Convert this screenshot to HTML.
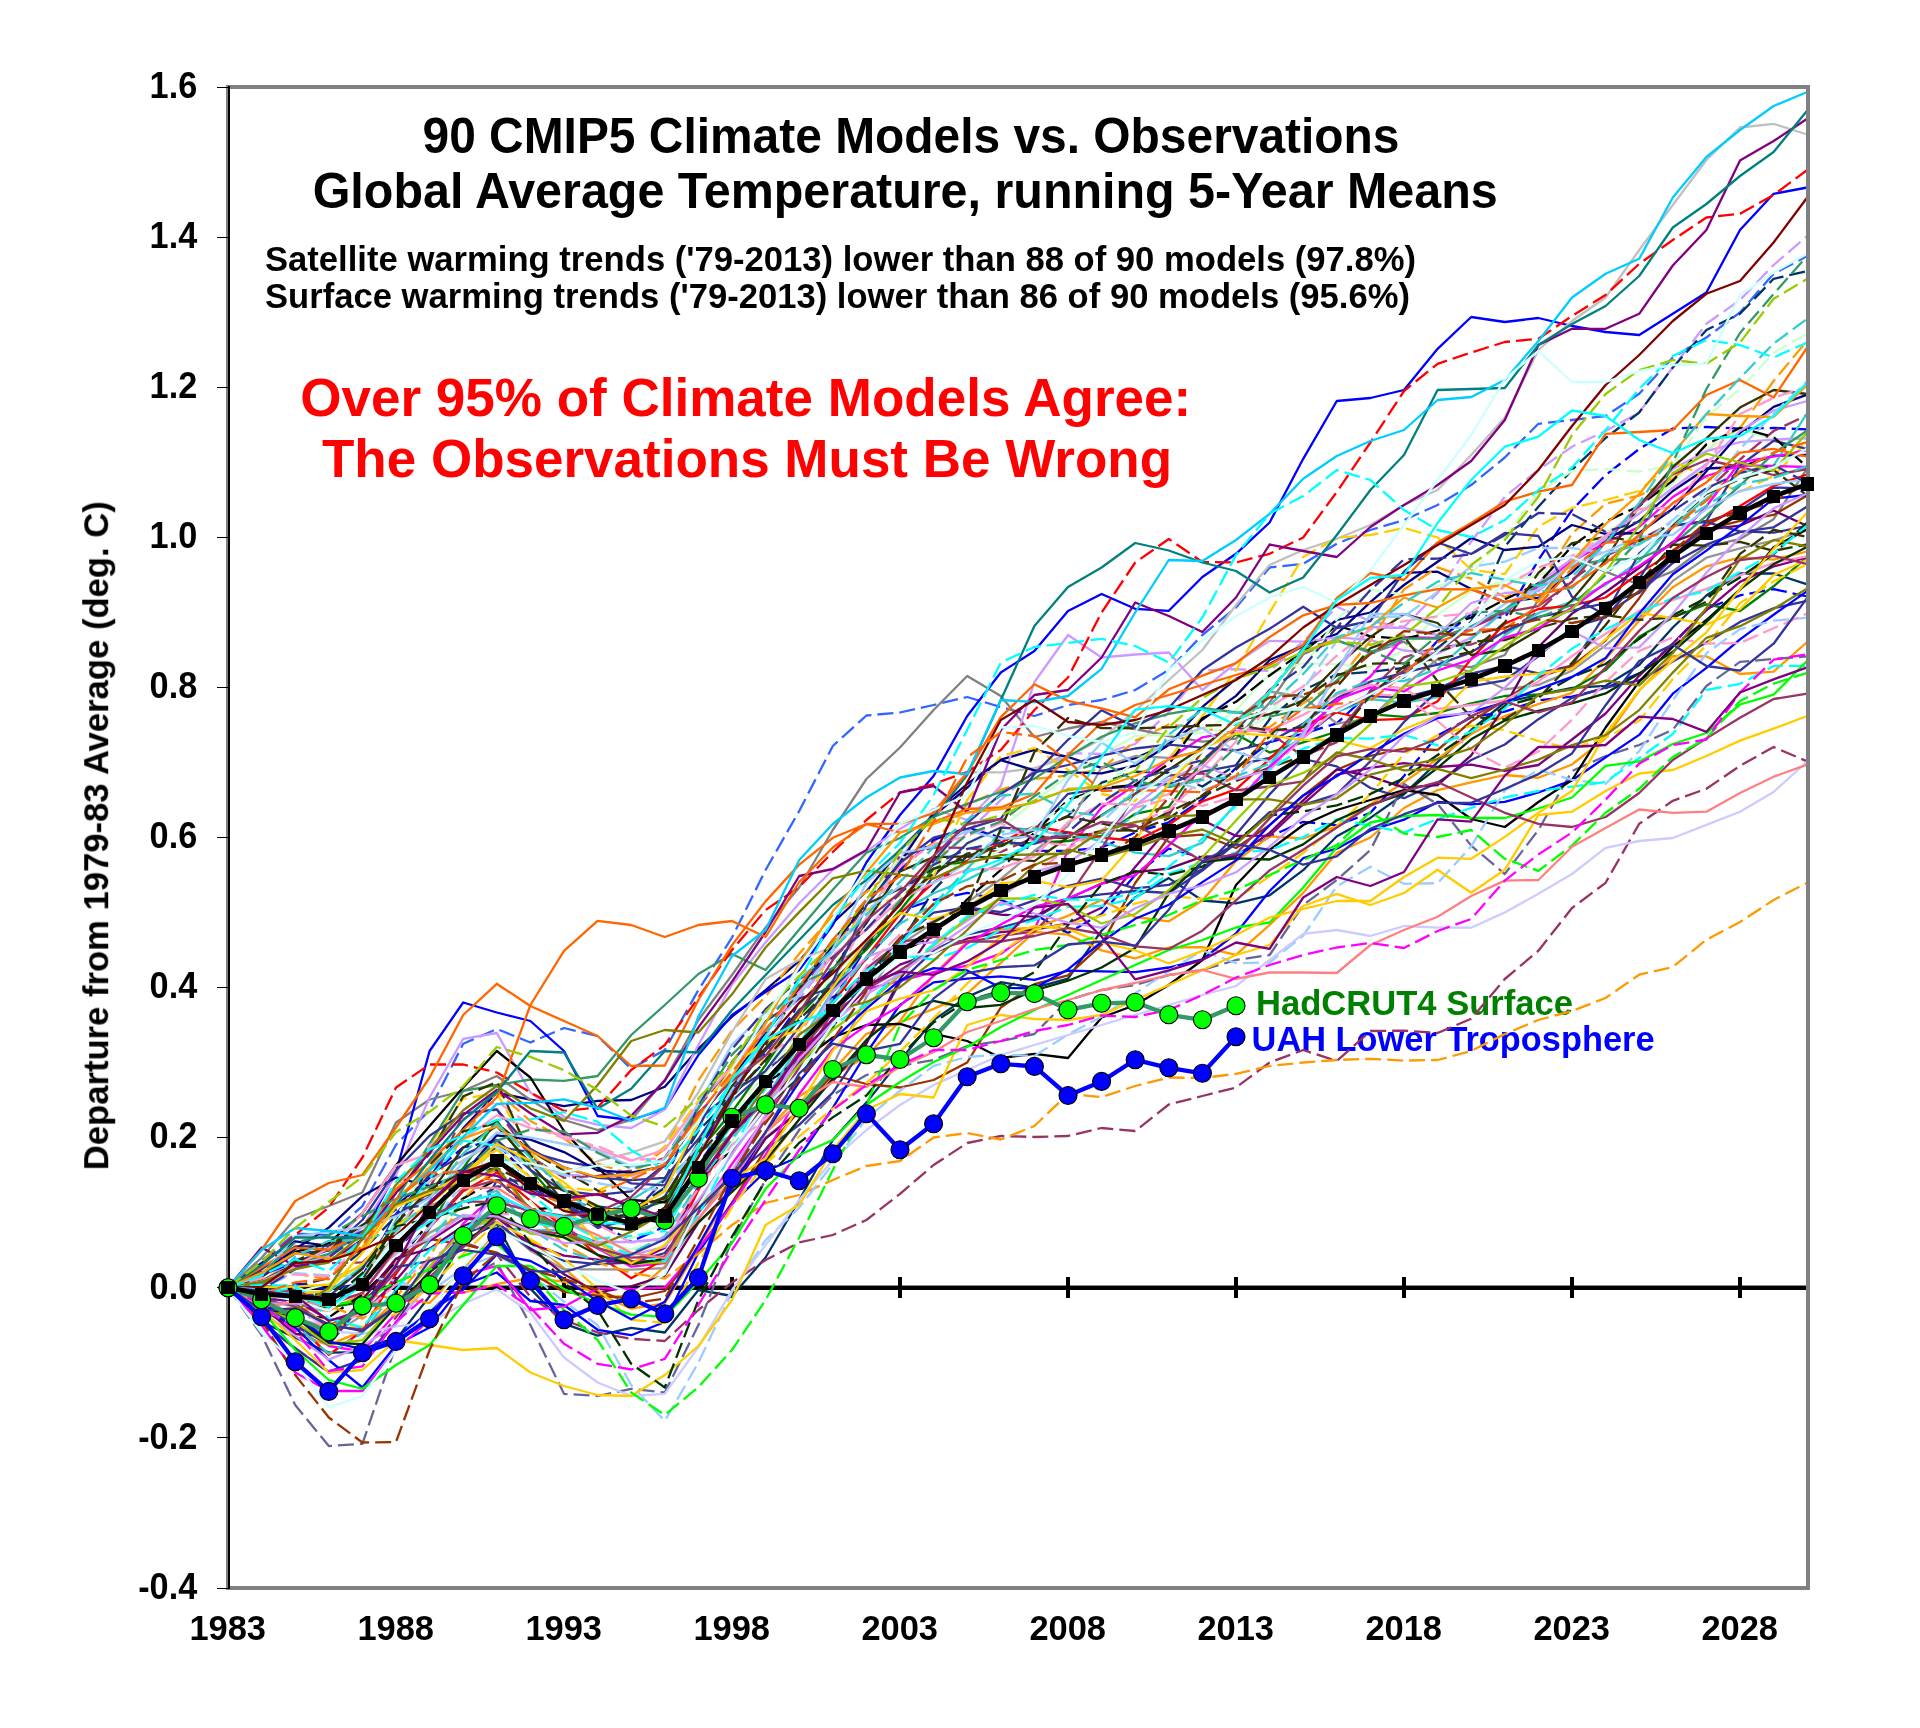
<!DOCTYPE html>
<html><head><meta charset="utf-8"><title>90 CMIP5 Climate Models vs. Observations</title>
<style>
html,body{margin:0;padding:0;background:#fff;}
body{width:1920px;height:1728px;overflow:hidden;font-family:"Liberation Sans",sans-serif;}
svg{display:block;}
text{font-family:"Liberation Sans",sans-serif;font-weight:bold;}
.tx{opacity:0.999;}
.m polyline{fill:none;stroke-width:2.3;stroke-linejoin:round;}
.d{stroke-dasharray:16 6;}
</style></head><body>
<svg width="1920" height="1728" viewBox="0 0 1920 1728">
<rect x="0" y="0" width="1920" height="1728" fill="#ffffff"/>

<g shape-rendering="crispEdges"><rect x="229" y="1286" width="1578" height="4" fill="#000"/><rect x="229" y="1285" width="1578" height="1" fill="#000" fill-opacity="0.45"/>
<rect x="394.0" y="1277" width="4" height="21" fill="#000"/>
<rect x="562.0" y="1277" width="4" height="21" fill="#000"/>
<rect x="730.0" y="1277" width="4" height="21" fill="#000"/>
<rect x="898.0" y="1277" width="4" height="21" fill="#000"/>
<rect x="1066.0" y="1277" width="4" height="21" fill="#000"/>
<rect x="1234.0" y="1277" width="4" height="21" fill="#000"/>
<rect x="1402.0" y="1277" width="4" height="21" fill="#000"/>
<rect x="1570.0" y="1277" width="4" height="21" fill="#000"/>
<rect x="1738.0" y="1277" width="4" height="21" fill="#000"/>
</g>
<defs><filter id="idf" x="0" y="0" width="1" height="1" color-interpolation-filters="sRGB"><feOffset dx="0" dy="0"/></filter></defs>
<g filter="url(#idf)">
<text x="1256" y="1014.5" font-size="35.3" fill="#008000" textLength="317" lengthAdjust="spacingAndGlyphs">HadCRUT4 Surface</text>
<text x="1251.6" y="1050.6" font-size="35.3" fill="#0000ff" textLength="403" lengthAdjust="spacingAndGlyphs">UAH Lower Troposphere</text>
</g>
<g class="m">
<polyline class="d" stroke="#cc99ff" points="228.0,1287.5 261.6,1281.3 295.2,1259.0 328.8,1257.3 362.4,1234.1 396.0,1206.2 429.6,1194.8 463.2,1182.3 496.8,1159.9 530.4,1163.0 564.0,1174.5 597.6,1177.1 631.2,1175.9 664.8,1164.4 698.4,1118.1 732.0,1073.6 765.6,1028.2 799.2,999.1 832.8,954.9 866.4,930.0 900.0,891.1 933.6,864.0 967.2,832.5 1000.8,800.0 1034.4,770.0 1068.0,753.0 1101.6,754.0 1135.2,744.0 1168.8,712.2 1202.4,670.7 1236.0,669.2 1269.6,671.0 1303.2,641.6 1336.8,606.8 1370.4,621.2 1404.0,627.0 1437.6,593.0 1471.2,541.7 1504.8,496.7 1538.4,470.0 1572.0,446.7 1605.6,431.0 1639.2,412.5 1672.8,367.5 1706.4,323.8 1740.0,300.0 1773.6,265.0 1807.2,236.0"/>
<polyline class="d" stroke="#3366ff" points="228.0,1287.5 261.6,1260.8 295.2,1233.7 328.8,1234.9 362.4,1206.1 396.0,1144.8 429.6,1110.0 463.2,1043.8 496.8,1029.0 530.4,1042.5 564.0,1028.0 597.6,1036.0 631.2,1068.8 664.8,1050.0 698.4,990.0 732.0,937.5 765.6,870.0 799.2,811.0 832.8,746.0 866.4,715.5 900.0,712.5 933.6,705.0 967.2,697.0 1000.8,707.0 1034.4,716.0 1068.0,705.0 1101.6,700.0 1135.2,690.0 1168.8,670.0 1202.4,635.0 1236.0,607.5 1269.6,567.5 1303.2,563.8 1336.8,543.8 1370.4,530.0 1404.0,520.0 1437.6,505.0 1471.2,485.0 1504.8,457.5 1538.4,423.8 1572.0,420.0 1605.6,416.0 1639.2,393.8 1672.8,357.5 1706.4,337.5 1740.0,312.5 1773.6,273.8 1807.2,256.0"/>
<polyline class="d" stroke="#003366" points="228.0,1287.5 261.6,1296.0 295.2,1286.2 328.8,1278.0 362.4,1250.6 396.0,1216.3 429.6,1176.9 463.2,1170.0 496.8,1170.3 530.4,1191.8 564.0,1201.7 597.6,1206.5 631.2,1210.7 664.8,1187.7 698.4,1130.9 732.0,1096.5 765.6,1060.8 799.2,1016.8 832.8,997.3 866.4,977.8 900.0,944.3 933.6,890.1 967.2,855.9 1000.8,846.4 1034.4,829.9 1068.0,815.8 1101.6,782.7 1135.2,771.7 1168.8,772.9 1202.4,786.5 1236.0,765.1 1269.6,719.2 1303.2,690.2 1336.8,674.3 1370.4,672.0 1404.0,667.9 1437.6,648.0 1471.2,621.7 1504.8,546.7 1538.4,506.7 1572.0,470.0 1605.6,438.0 1639.2,412.5 1672.8,367.5 1706.4,330.0 1740.0,313.8 1773.6,278.8 1807.2,271.0"/>
<polyline stroke="#003366" points="228.0,1287.5 261.6,1321.8 295.2,1337.6 328.8,1352.6 362.4,1352.2 396.0,1339.6 429.6,1296.2 463.2,1240.5 496.8,1223.8 530.4,1288.6 564.0,1323.7 597.6,1335.7 631.2,1327.9 664.8,1332.5 698.4,1290.0 732.0,1296.0 765.6,1257.5 799.2,1200.0 832.8,1140.0 866.4,1102.6 900.0,1060.4 933.6,1020.1 967.2,996.9 1000.8,982.2 1034.4,987.9 1068.0,978.7 1101.6,930.7 1135.2,897.4 1168.8,878.1 1202.4,900.5 1236.0,903.4 1269.6,895.3 1303.2,870.2 1336.8,836.2 1370.4,817.9 1404.0,794.2 1437.6,762.1 1471.2,730.0 1504.8,702.4 1538.4,694.9 1572.0,687.9 1605.6,685.8 1639.2,665.1 1672.8,627.5 1706.4,595.5 1740.0,573.5 1773.6,573.4 1807.2,584.4"/>
<polyline stroke="#000080" points="228.0,1287.5 261.6,1262.9 295.2,1241.3 328.8,1245.8 362.4,1237.4 396.0,1205.8 429.6,1177.9 463.2,1128.3 496.8,1092.7 530.4,1099.6 564.0,1106.2 597.6,1100.8 631.2,1100.0 664.8,1086.8 698.4,1048.9 732.0,1016.6 765.6,990.2 799.2,960.9 832.8,923.0 866.4,891.4 900.0,850.1 933.6,816.0 967.2,787.6 1000.8,759.7 1034.4,749.9 1068.0,757.0 1101.6,767.9 1135.2,758.2 1168.8,743.5 1202.4,719.6 1236.0,695.9 1269.6,660.0 1303.2,645.7 1336.8,634.0 1370.4,602.1 1404.0,572.9 1437.6,571.7 1471.2,588.9 1504.8,602.1 1538.4,597.8 1572.0,572.3 1605.6,540.3 1639.2,521.0 1672.8,491.0 1706.4,468.5 1740.0,467.0 1773.6,455.7 1807.2,455.0"/>
<polyline class="d" stroke="#ff9900" points="228.0,1287.5 261.6,1282.7 295.2,1273.7 328.8,1279.3 362.4,1266.4 396.0,1232.4 429.6,1186.9 463.2,1136.9 496.8,1091.5 530.4,1121.0 564.0,1138.3 597.6,1163.7 631.2,1174.2 664.8,1149.0 698.4,1080.4 732.0,1030.6 765.6,996.5 799.2,953.8 832.8,915.8 866.4,892.0 900.0,866.2 933.6,842.5 967.2,804.7 1000.8,789.7 1034.4,779.0 1068.0,775.6 1101.6,768.9 1135.2,740.9 1168.8,724.5 1202.4,728.1 1236.0,733.5 1269.6,727.1 1303.2,703.3 1336.8,682.3 1370.4,640.9 1404.0,589.4 1437.6,567.4 1471.2,578.6 1504.8,597.0 1538.4,585.6 1572.0,533.7 1605.6,503.7 1639.2,495.6 1672.8,479.0 1706.4,450.0 1740.0,428.0 1773.6,381.0 1807.2,340.6"/>
<polyline class="d" stroke="#0000ff" points="228.0,1287.5 261.6,1292.4 295.2,1283.2 328.8,1289.7 362.4,1283.1 396.0,1250.0 429.6,1216.1 463.2,1170.7 496.8,1143.1 530.4,1178.1 564.0,1199.4 597.6,1221.9 631.2,1241.4 664.8,1226.5 698.4,1164.8 732.0,1115.6 765.6,1088.2 799.2,1055.7 832.8,1000.1 866.4,947.4 900.0,910.8 933.6,899.9 967.2,892.9 1000.8,899.9 1034.4,914.2 1068.0,932.9 1101.6,913.9 1135.2,875.0 1168.8,848.7 1202.4,857.7 1236.0,857.8 1269.6,836.5 1303.2,821.8 1336.8,825.4 1370.4,812.8 1404.0,776.0 1437.6,735.5 1471.2,717.4 1504.8,711.6 1538.4,700.3 1572.0,696.6 1605.6,688.1 1639.2,673.3 1672.8,644.0 1706.4,608.9 1740.0,595.4 1773.6,589.1 1807.2,596.5"/>
<polyline stroke="#808080" points="228.0,1287.5 261.6,1257.8 295.2,1218.8 328.8,1206.0 362.4,1192.5 396.0,1122.5 429.6,1099.5 463.2,1091.0 496.8,1076.0 530.4,1100.0 564.0,1120.0 597.6,1130.0 631.2,1120.0 664.8,1080.0 698.4,1020.0 732.0,975.0 765.6,927.5 799.2,887.5 832.8,830.0 866.4,779.0 900.0,747.5 933.6,710.0 967.2,676.0 1000.8,696.0 1034.4,737.0 1068.0,728.5 1101.6,722.0 1135.2,729.0 1168.8,736.0 1202.4,741.6 1236.0,738.6 1269.6,702.7 1303.2,654.3 1336.8,640.0 1370.4,653.3 1404.0,641.7 1437.6,664.4 1471.2,667.1 1504.8,655.0 1538.4,599.5 1572.0,557.8 1605.6,571.6 1639.2,584.7 1672.8,571.4 1706.4,546.5 1740.0,539.1 1773.6,519.2 1807.2,468.3"/>
<polyline class="d" stroke="#0000ff" points="228.0,1287.5 261.6,1298.4 295.2,1301.4 328.8,1310.6 362.4,1276.2 396.0,1214.0 429.6,1175.9 463.2,1147.4 496.8,1140.4 530.4,1185.1 564.0,1204.0 597.6,1214.7 631.2,1226.4 664.8,1211.6 698.4,1154.5 732.0,1089.0 765.6,1052.3 799.2,1004.8 832.8,967.9 866.4,923.1 900.0,870.0 933.6,840.0 967.2,827.5 1000.8,837.5 1034.4,850.6 1068.0,851.0 1101.6,847.5 1135.2,832.5 1168.8,822.3 1202.4,799.3 1236.0,768.2 1269.6,742.1 1303.2,733.7 1336.8,723.4 1370.4,692.1 1404.0,677.1 1437.6,640.8 1471.2,614.2 1504.8,618.0 1538.4,560.0 1572.0,510.0 1605.6,475.0 1639.2,449.0 1672.8,428.6 1706.4,427.0 1740.0,428.6 1773.6,428.0 1807.2,429.4"/>
<polyline stroke="#ff9900" points="228.0,1287.5 261.6,1315.8 295.2,1308.6 328.8,1310.6 362.4,1294.4 396.0,1298.6 429.6,1302.9 463.2,1269.1 496.8,1231.0 530.4,1240.0 564.0,1268.3 597.6,1297.1 631.2,1295.8 664.8,1266.5 698.4,1208.7 732.0,1186.1 765.6,1163.1 799.2,1119.4 832.8,1070.8 866.4,1033.8 900.0,1022.4 933.6,1008.9 967.2,993.7 1000.8,962.8 1034.4,931.9 1068.0,934.6 1101.6,950.4 1135.2,958.4 1168.8,947.5 1202.4,947.2 1236.0,954.9 1269.6,924.9 1303.2,892.8 1336.8,852.7 1370.4,837.5 1404.0,808.0 1437.6,790.1 1471.2,782.3 1504.8,775.0 1538.4,777.8 1572.0,764.5 1605.6,738.0 1639.2,690.5 1672.8,656.2 1706.4,656.3 1740.0,674.0 1773.6,671.7 1807.2,642.0"/>
<polyline stroke="#ccffcc" points="228.0,1287.5 261.6,1305.8 295.2,1292.8 328.8,1283.4 362.4,1267.4 396.0,1254.4 429.6,1237.1 463.2,1197.8 496.8,1148.4 530.4,1180.1 564.0,1210.1 597.6,1241.4 631.2,1249.3 664.8,1239.4 698.4,1186.7 732.0,1142.3 765.6,1074.9 799.2,1005.9 832.8,973.0 866.4,948.7 900.0,914.5 933.6,870.2 967.2,845.0 1000.8,828.8 1034.4,801.0 1068.0,776.0 1101.6,755.0 1135.2,736.0 1168.8,734.7 1202.4,732.8 1236.0,710.3 1269.6,673.5 1303.2,663.1 1336.8,664.4 1370.4,667.5 1404.0,649.7 1437.6,614.8 1471.2,591.4 1504.8,580.9 1538.4,575.5 1572.0,562.4 1605.6,532.8 1639.2,512.7 1672.8,483.2 1706.4,449.6 1740.0,429.6 1773.6,439.7 1807.2,436.1"/>
<polyline stroke="#969696" points="228.0,1287.5 261.6,1297.1 295.2,1316.7 328.8,1336.9 362.4,1315.4 396.0,1263.3 429.6,1232.8 463.2,1215.0 496.8,1222.9 530.4,1250.7 564.0,1269.4 597.6,1269.4 631.2,1269.6 664.8,1268.2 698.4,1219.4 732.0,1172.4 765.6,1137.5 799.2,1110.9 832.8,1065.4 866.4,996.9 900.0,944.9 933.6,922.8 967.2,902.4 1000.8,879.0 1034.4,851.0 1068.0,826.0 1101.6,767.5 1135.2,756.0 1168.8,757.8 1202.4,751.2 1236.0,720.9 1269.6,691.4 1303.2,696.9 1336.8,723.5 1370.4,718.6 1404.0,686.0 1437.6,659.2 1471.2,672.9 1504.8,689.3 1538.4,684.9 1572.0,670.7 1605.6,645.3 1639.2,617.8 1672.8,580.9 1706.4,557.7 1740.0,548.4 1773.6,540.5 1807.2,529.4"/>
<polyline class="d" stroke="#993366" points="228.0,1287.5 261.6,1284.6 295.2,1264.0 328.8,1263.1 362.4,1262.4 396.0,1232.0 429.6,1188.7 463.2,1114.0 496.8,1109.7 530.4,1156.7 564.0,1177.8 597.6,1175.9 631.2,1170.6 664.8,1157.7 698.4,1107.2 732.0,1065.6 765.6,1031.9 799.2,991.4 832.8,950.8 866.4,904.7 900.0,856.0 933.6,847.5 967.2,848.0 1000.8,852.0 1034.4,837.5 1068.0,837.0 1101.6,832.5 1135.2,826.0 1168.8,814.8 1202.4,763.5 1236.0,727.6 1269.6,733.0 1303.2,756.3 1336.8,742.1 1370.4,690.4 1404.0,657.3 1437.6,647.1 1471.2,644.5 1504.8,632.8 1538.4,611.3 1572.0,579.7 1605.6,556.2 1639.2,540.0 1672.8,522.7 1706.4,491.0 1740.0,459.5 1773.6,431.0 1807.2,415.0"/>
<polyline stroke="#0000ff" points="228.0,1287.5 261.6,1275.0 295.2,1262.0 328.8,1250.0 362.4,1235.0 396.0,1172.5 429.6,1051.0 463.2,1002.5 496.8,1012.5 530.4,1021.0 564.0,1051.0 597.6,1116.0 631.2,1120.0 664.8,1109.0 698.4,1055.0 732.0,1015.0 765.6,992.0 799.2,970.0 832.8,925.0 866.4,862.5 900.0,815.0 933.6,776.0 967.2,716.0 1000.8,672.5 1034.4,651.0 1068.0,611.0 1101.6,594.0 1135.2,608.8 1168.8,610.8 1202.4,577.0 1236.0,553.8 1269.6,522.5 1303.2,458.8 1336.8,401.0 1370.4,398.0 1404.0,390.0 1437.6,348.8 1471.2,317.0 1504.8,322.0 1538.4,318.0 1572.0,326.0 1605.6,332.0 1639.2,335.0 1672.8,313.8 1706.4,292.5 1740.0,230.0 1773.6,193.8 1807.2,187.5"/>
<polyline stroke="#ff9900" points="228.0,1287.5 261.6,1314.2 295.2,1333.5 328.8,1345.1 362.4,1330.9 396.0,1300.6 429.6,1290.5 463.2,1292.7 496.8,1284.1 530.4,1278.0 564.0,1281.7 597.6,1293.5 631.2,1308.7 664.8,1303.3 698.4,1248.5 732.0,1188.1 765.6,1131.6 799.2,1096.2 832.8,1076.1 866.4,1056.5 900.0,1021.0 933.6,974.7 967.2,941.5 1000.8,929.4 1034.4,928.0 1068.0,915.8 1101.6,899.9 1135.2,917.0 1168.8,921.3 1202.4,900.6 1236.0,861.0 1269.6,836.4 1303.2,838.5 1336.8,826.4 1370.4,804.5 1404.0,782.0 1437.6,759.0 1471.2,734.1 1504.8,716.1 1538.4,704.0 1572.0,692.8 1605.6,659.0 1639.2,620.8 1672.8,587.2 1706.4,566.3 1740.0,557.3 1773.6,559.6 1807.2,551.5"/>
<polyline stroke="#33cccc" points="228.0,1287.5 261.6,1294.1 295.2,1293.1 328.8,1291.7 362.4,1266.7 396.0,1224.1 429.6,1207.4 463.2,1217.2 496.8,1227.8 530.4,1230.5 564.0,1229.9 597.6,1218.1 631.2,1200.0 664.8,1179.4 698.4,1151.3 732.0,1135.9 765.6,1099.4 799.2,1044.2 832.8,990.8 866.4,946.9 900.0,912.3 933.6,893.2 967.2,879.6 1000.8,863.0 1034.4,842.3 1068.0,831.8 1101.6,841.6 1135.2,852.7 1168.8,856.1 1202.4,842.6 1236.0,803.7 1269.6,766.0 1303.2,724.7 1336.8,711.9 1370.4,699.1 1404.0,702.6 1437.6,697.1 1471.2,670.4 1504.8,635.4 1538.4,613.0 1572.0,601.5 1605.6,584.9 1639.2,561.1 1672.8,525.7 1706.4,498.6 1740.0,473.0 1773.6,465.5 1807.2,413.0"/>
<polyline stroke="#c0c0c0" points="228.0,1287.5 261.6,1296.3 295.2,1297.9 328.8,1304.3 362.4,1276.6 396.0,1233.5 429.6,1181.4 463.2,1160.2 496.8,1141.4 530.4,1165.9 564.0,1174.6 597.6,1161.2 631.2,1152.6 664.8,1141.3 698.4,1092.3 732.0,1032.0 765.6,979.1 799.2,959.7 832.8,946.8 866.4,918.8 900.0,859.6 933.6,811.3 967.2,772.1 1000.8,772.4 1034.4,768.2 1068.0,756.8 1101.6,738.9 1135.2,710.9 1168.8,680.0 1202.4,650.0 1236.0,605.0 1269.6,565.0 1303.2,550.0 1336.8,538.8 1370.4,525.0 1404.0,505.0 1437.6,490.0 1471.2,455.0 1504.8,417.5 1538.4,350.0 1572.0,321.0 1605.6,297.5 1639.2,250.0 1672.8,205.0 1706.4,160.0 1740.0,127.5 1773.6,123.8 1807.2,134.5"/>
<polyline stroke="#cc99ff" points="228.0,1287.5 261.6,1285.1 295.2,1267.0 328.8,1255.9 362.4,1227.1 396.0,1175.0 429.6,1097.5 463.2,1038.8 496.8,1033.0 530.4,1092.5 564.0,1116.8 597.6,1124.7 631.2,1128.0 664.8,1109.6 698.4,1045.0 732.0,984.5 765.6,942.4 799.2,903.2 832.8,869.8 866.4,851.1 900.0,829.0 933.6,809.0 967.2,820.0 1000.8,786.0 1034.4,682.0 1068.0,635.0 1101.6,657.5 1135.2,654.5 1168.8,652.5 1202.4,690.0 1236.0,662.8 1269.6,640.8 1303.2,641.7 1336.8,637.4 1370.4,639.9 1404.0,650.5 1437.6,653.6 1471.2,637.6 1504.8,610.0 1538.4,582.6 1572.0,558.9 1605.6,539.0 1639.2,505.7 1672.8,468.9 1706.4,451.2 1740.0,442.2 1773.6,439.7 1807.2,438.3"/>
<polyline stroke="#333399" points="228.0,1287.5 261.6,1269.2 295.2,1246.4 328.8,1246.2 362.4,1231.4 396.0,1214.6 429.6,1197.3 463.2,1168.5 496.8,1147.0 530.4,1152.1 564.0,1161.6 597.6,1167.2 631.2,1183.4 664.8,1185.3 698.4,1127.9 732.0,1062.0 765.6,1021.3 799.2,998.5 832.8,987.5 866.4,959.1 900.0,921.5 933.6,876.1 967.2,843.2 1000.8,827.5 1034.4,830.0 1068.0,793.8 1101.6,788.8 1135.2,786.0 1168.8,784.0 1202.4,771.7 1236.0,765.3 1269.6,757.8 1303.2,737.5 1336.8,711.1 1370.4,696.1 1404.0,697.6 1437.6,688.9 1471.2,673.6 1504.8,665.8 1538.4,673.4 1572.0,665.5 1605.6,614.2 1639.2,553.5 1672.8,525.6 1706.4,521.9 1740.0,510.3 1773.6,487.6 1807.2,488.5"/>
<polyline stroke="#008000" points="228.0,1287.5 261.6,1291.2 295.2,1294.5 328.8,1307.4 362.4,1302.0 396.0,1272.2 429.6,1228.3 463.2,1168.2 496.8,1120.3 530.4,1169.7 564.0,1207.1 597.6,1223.8 631.2,1211.9 664.8,1201.2 698.4,1151.7 732.0,1112.0 765.6,1065.0 799.2,1015.1 832.8,980.7 866.4,949.7 900.0,910.5 933.6,868.8 967.2,861.0 1000.8,843.8 1034.4,843.0 1068.0,841.0 1101.6,836.0 1135.2,813.8 1168.8,806.9 1202.4,760.9 1236.0,734.2 1269.6,752.6 1303.2,742.4 1336.8,731.5 1370.4,714.2 1404.0,716.9 1437.6,713.0 1471.2,703.4 1504.8,696.0 1538.4,694.4 1572.0,689.2 1605.6,670.1 1639.2,636.8 1672.8,617.5 1706.4,604.3 1740.0,611.0 1773.6,586.3 1807.2,557.2"/>
<polyline class="d" stroke="#666699" points="228.0,1287.5 261.6,1335.0 295.2,1405.0 328.8,1446.0 362.4,1443.8 396.0,1345.0 429.6,1312.0 463.2,1280.0 496.8,1262.0 530.4,1325.0 564.0,1393.8 597.6,1396.0 631.2,1388.8 664.8,1392.5 698.4,1325.0 732.0,1240.0 765.6,1180.0 799.2,1130.0 832.8,1095.0 866.4,1075.0 900.0,1066.0 933.6,1060.0 967.2,1046.0 1000.8,1041.0 1034.4,1034.0 1068.0,1000.0 1101.6,990.0 1135.2,985.0 1168.8,975.0 1202.4,970.0 1236.0,960.0 1269.6,955.0 1303.2,905.0 1336.8,880.0 1370.4,850.0 1404.0,784.0 1437.6,804.0 1471.2,845.6 1504.8,874.0 1538.4,830.0 1572.0,771.0 1605.6,756.0 1639.2,745.0 1672.8,729.7 1706.4,686.0 1740.0,661.9 1773.6,659.0 1807.2,656.4"/>
<polyline class="d" stroke="#ffcc00" points="228.0,1287.5 261.6,1278.7 295.2,1265.4 328.8,1259.6 362.4,1247.0 396.0,1189.5 429.6,1145.1 463.2,1098.7 496.8,1093.1 530.4,1152.2 564.0,1187.2 597.6,1190.9 631.2,1175.0 664.8,1146.3 698.4,1100.9 732.0,1079.8 765.6,1057.2 799.2,1016.1 832.8,948.6 866.4,910.1 900.0,895.6 933.6,876.0 967.2,800.0 1000.8,756.0 1034.4,748.0 1068.0,770.0 1101.6,794.0 1135.2,801.0 1168.8,758.9 1202.4,716.2 1236.0,670.0 1269.6,612.5 1303.2,557.0 1336.8,538.0 1370.4,535.0 1404.0,528.0 1437.6,537.5 1471.2,570.0 1504.8,574.0 1538.4,526.7 1572.0,508.0 1605.6,500.0 1639.2,491.0 1672.8,461.0 1706.4,477.5 1740.0,491.8 1773.6,476.0 1807.2,441.4"/>
<polyline class="d" stroke="#993366" points="228.0,1287.5 261.6,1323.1 295.2,1347.9 328.8,1372.7 362.4,1360.2 396.0,1317.2 429.6,1273.1 463.2,1242.0 496.8,1254.6 530.4,1296.7 564.0,1320.0 597.6,1332.5 631.2,1338.8 664.8,1341.0 698.4,1310.0 732.0,1282.5 765.6,1260.0 799.2,1242.5 832.8,1235.0 866.4,1220.0 900.0,1193.8 933.6,1165.0 967.2,1143.0 1000.8,1136.0 1034.4,1137.0 1068.0,1136.0 1101.6,1128.0 1135.2,1131.0 1168.8,1104.5 1202.4,1096.0 1236.0,1087.5 1269.6,1062.5 1303.2,1050.0 1336.8,1061.0 1370.4,1031.0 1404.0,1030.6 1437.6,1033.0 1471.2,1018.8 1504.8,979.0 1538.4,950.7 1572.0,908.0 1605.6,882.8 1639.2,823.8 1672.8,800.8 1706.4,788.8 1740.0,765.8 1773.6,747.0 1807.2,761.4"/>
<polyline stroke="#993300" points="228.0,1287.5 261.6,1310.0 295.2,1327.9 328.8,1337.3 362.4,1307.9 396.0,1259.0 429.6,1239.0 463.2,1244.4 496.8,1252.6 530.4,1272.6 564.0,1291.9 597.6,1295.6 631.2,1298.5 664.8,1291.0 698.4,1249.9 732.0,1202.6 765.6,1149.0 799.2,1111.3 832.8,1075.0 866.4,1084.0 900.0,1087.5 933.6,1080.0 967.2,1062.5 1000.8,1007.5 1034.4,984.2 1068.0,975.4 1101.6,944.6 1135.2,883.0 1168.8,837.0 1202.4,834.7 1236.0,848.0 1269.6,825.1 1303.2,795.7 1336.8,769.7 1370.4,755.8 1404.0,748.5 1437.6,750.0 1471.2,721.4 1504.8,700.2 1538.4,677.3 1572.0,665.8 1605.6,640.5 1639.2,598.2 1672.8,550.5 1706.4,529.6 1740.0,520.8 1773.6,514.9 1807.2,495.6"/>
<polyline stroke="#ff00ff" points="228.0,1287.5 261.6,1307.9 295.2,1315.5 328.8,1346.0 362.4,1351.5 396.0,1313.0 429.6,1270.5 463.2,1223.7 496.8,1193.5 530.4,1213.4 564.0,1226.1 597.6,1248.6 631.2,1266.7 664.8,1263.2 698.4,1212.8 732.0,1164.0 765.6,1117.8 799.2,1056.7 832.8,1019.1 866.4,989.2 900.0,980.8 933.6,972.2 967.2,965.7 1000.8,953.7 1034.4,930.0 1068.0,850.0 1101.6,807.5 1135.2,785.0 1168.8,759.0 1202.4,737.3 1236.0,731.1 1269.6,729.6 1303.2,731.0 1336.8,701.9 1370.4,676.5 1404.0,637.1 1437.6,637.8 1471.2,627.6 1504.8,612.9 1538.4,586.0 1572.0,561.8 1605.6,542.6 1639.2,527.0 1672.8,497.0 1706.4,476.0 1740.0,465.5 1773.6,466.0 1807.2,467.0"/>
<polyline stroke="#ff0000" points="228.0,1287.5 261.6,1302.0 295.2,1322.7 328.8,1354.8 362.4,1331.3 396.0,1273.9 429.6,1227.5 463.2,1191.3 496.8,1172.4 530.4,1200.9 564.0,1227.3 597.6,1254.8 631.2,1278.3 664.8,1258.8 698.4,1190.1 732.0,1134.2 765.6,1101.1 799.2,1059.5 832.8,1003.5 866.4,957.5 900.0,913.6 933.6,882.5 967.2,861.0 1000.8,842.5 1034.4,826.0 1068.0,832.5 1101.6,837.5 1135.2,841.0 1168.8,824.7 1202.4,801.3 1236.0,789.3 1269.6,759.1 1303.2,725.9 1336.8,712.5 1370.4,720.2 1404.0,718.8 1437.6,701.2 1471.2,658.9 1504.8,623.6 1538.4,609.0 1572.0,605.6 1605.6,597.5 1639.2,573.4 1672.8,551.9 1706.4,525.7 1740.0,506.0 1773.6,485.8 1807.2,474.5"/>
<polyline stroke="#333399" points="228.0,1287.5 261.6,1297.8 295.2,1293.3 328.8,1296.4 362.4,1268.7 396.0,1218.3 429.6,1173.9 463.2,1155.1 496.8,1139.9 530.4,1170.0 564.0,1190.9 597.6,1194.8 631.2,1191.4 664.8,1164.5 698.4,1119.9 732.0,1091.7 765.6,1071.5 799.2,1042.5 832.8,1009.0 866.4,974.7 900.0,939.1 933.6,912.7 967.2,907.3 1000.8,912.1 1034.4,900.3 1068.0,885.8 1101.6,878.7 1135.2,888.3 1168.8,884.9 1202.4,869.2 1236.0,834.8 1269.6,794.4 1303.2,759.0 1336.8,766.4 1370.4,788.0 1404.0,798.2 1437.6,782.7 1471.2,760.0 1504.8,744.5 1538.4,719.2 1572.0,697.9 1605.6,687.7 1639.2,680.4 1672.8,661.5 1706.4,642.5 1740.0,621.9 1773.6,608.2 1807.2,600.9"/>
<polyline stroke="#000080" points="228.0,1287.5 261.6,1273.4 295.2,1249.0 328.8,1227.6 362.4,1196.1 396.0,1177.5 429.6,1186.1 463.2,1174.6 496.8,1135.3 530.4,1139.7 564.0,1152.1 597.6,1170.5 631.2,1172.7 664.8,1166.1 698.4,1118.4 732.0,1078.1 765.6,1033.6 799.2,988.6 832.8,945.9 866.4,902.8 900.0,862.7 933.6,812.7 967.2,784.0 1000.8,760.1 1034.4,770.4 1068.0,772.4 1101.6,773.4 1135.2,765.7 1168.8,744.9 1202.4,706.9 1236.0,678.8 1269.6,664.1 1303.2,646.0 1336.8,620.0 1370.4,612.5 1404.0,585.0 1437.6,561.7 1471.2,538.0 1504.8,550.0 1538.4,546.7 1572.0,525.0 1605.6,534.0 1639.2,533.0 1672.8,508.7 1706.4,471.3 1740.0,432.9 1773.6,406.8 1807.2,394.6"/>
<polyline stroke="#333399" points="228.0,1287.5 261.6,1321.3 295.2,1348.6 328.8,1371.7 362.4,1359.6 396.0,1322.8 429.6,1272.6 463.2,1234.0 496.8,1222.0 530.4,1249.4 564.0,1260.8 597.6,1264.2 631.2,1262.7 664.8,1253.0 698.4,1210.4 732.0,1176.4 765.6,1149.6 799.2,1124.8 832.8,1092.7 866.4,1043.3 900.0,982.3 933.6,950.3 967.2,934.4 1000.8,927.5 1034.4,918.4 1068.0,898.6 1101.6,894.3 1135.2,891.0 1168.8,893.0 1202.4,870.5 1236.0,843.2 1269.6,812.2 1303.2,804.8 1336.8,794.4 1370.4,761.3 1404.0,721.9 1437.6,691.3 1471.2,686.4 1504.8,680.3 1538.4,656.2 1572.0,627.4 1605.6,617.5 1639.2,578.8 1672.8,525.7 1706.4,521.0 1740.0,465.5 1773.6,440.7 1807.2,449.0"/>
<polyline class="d" stroke="#000000" points="228.0,1287.5 261.6,1309.3 295.2,1317.1 328.8,1317.4 362.4,1294.4 396.0,1261.8 429.6,1223.0 463.2,1198.4 496.8,1179.5 530.4,1209.8 564.0,1206.6 597.6,1211.0 631.2,1218.1 664.8,1222.8 698.4,1172.2 732.0,1124.4 765.6,1083.5 799.2,1060.0 832.8,1019.7 866.4,984.8 900.0,952.0 933.6,936.4 967.2,899.3 1000.8,870.0 1034.4,832.5 1068.0,800.0 1101.6,788.0 1135.2,785.0 1168.8,764.1 1202.4,718.2 1236.0,701.8 1269.6,675.5 1303.2,651.6 1336.8,625.3 1370.4,636.4 1404.0,638.9 1437.6,630.5 1471.2,617.5 1504.8,599.4 1538.4,583.5 1572.0,546.2 1605.6,521.7 1639.2,506.0 1672.8,480.6 1706.4,444.4 1740.0,427.9 1773.6,437.0 1807.2,467.0"/>
<polyline stroke="#339966" points="228.0,1287.5 261.6,1284.1 295.2,1263.6 328.8,1253.8 362.4,1234.0 396.0,1200.4 429.6,1143.7 463.2,1090.9 496.8,1085.0 530.4,1079.5 564.0,1080.8 597.6,1076.0 631.2,1035.0 664.8,1005.0 698.4,974.0 732.0,954.0 765.6,970.0 799.2,929.4 832.8,889.8 866.4,852.8 900.0,838.0 933.6,816.9 967.2,803.9 1000.8,792.0 1034.4,778.6 1068.0,756.7 1101.6,736.8 1135.2,723.3 1168.8,713.9 1202.4,708.0 1236.0,712.4 1269.6,716.7 1303.2,709.4 1336.8,680.3 1370.4,652.3 1404.0,638.4 1437.6,638.6 1471.2,626.4 1504.8,609.9 1538.4,583.9 1572.0,565.7 1605.6,560.0 1639.2,558.6 1672.8,544.5 1706.4,515.9 1740.0,485.6 1773.6,453.4 1807.2,430.5"/>
<polyline stroke="#0000ff" points="228.0,1287.5 261.6,1306.8 295.2,1327.6 328.8,1360.0 362.4,1387.5 396.0,1345.0 429.6,1327.5 463.2,1285.0 496.8,1272.5 530.4,1301.0 564.0,1305.0 597.6,1329.8 631.2,1335.2 664.8,1322.0 698.4,1252.5 732.0,1203.7 765.6,1171.2 799.2,1156.8 832.8,1107.8 866.4,1053.0 900.0,1004.9 933.6,982.4 967.2,978.7 1000.8,976.4 1034.4,979.8 1068.0,970.6 1101.6,971.4 1135.2,972.2 1168.8,967.5 1202.4,959.3 1236.0,933.5 1269.6,891.0 1303.2,858.2 1336.8,848.7 1370.4,830.5 1404.0,819.7 1437.6,801.9 1471.2,804.4 1504.8,801.9 1538.4,792.5 1572.0,780.3 1605.6,757.4 1639.2,734.9 1672.8,693.7 1706.4,667.9 1740.0,639.4 1773.6,614.7 1807.2,591.1"/>
<polyline stroke="#660066" points="228.0,1287.5 261.6,1305.6 295.2,1334.0 328.8,1335.7 362.4,1299.8 396.0,1258.5 429.6,1248.6 463.2,1226.0 496.8,1212.9 530.4,1247.9 564.0,1274.3 597.6,1292.6 631.2,1286.3 664.8,1275.7 698.4,1222.6 732.0,1189.3 765.6,1138.5 799.2,1111.5 832.8,1080.9 866.4,1043.3 900.0,979.1 933.6,931.9 967.2,908.8 1000.8,914.6 1034.4,916.8 1068.0,898.8 1101.6,883.5 1135.2,872.2 1168.8,868.6 1202.4,856.6 1236.0,856.0 1269.6,832.9 1303.2,800.4 1336.8,769.3 1370.4,776.3 1404.0,787.6 1437.6,785.1 1471.2,755.3 1504.8,706.4 1538.4,647.0 1572.0,613.6 1605.6,592.2 1639.2,567.8 1672.8,541.9 1706.4,529.6 1740.0,525.7 1773.6,510.5 1807.2,526.0"/>
<polyline stroke="#000000" points="228.0,1287.5 261.6,1277.1 295.2,1251.8 328.8,1243.2 362.4,1213.2 396.0,1165.2 429.6,1126.0 463.2,1087.5 496.8,1051.0 530.4,1077.5 564.0,1131.0 597.6,1167.5 631.2,1200.0 664.8,1202.4 698.4,1175.1 732.0,1151.2 765.6,1108.1 799.2,1062.5 832.8,1037.5 866.4,1025.0 900.0,1023.8 933.6,1033.8 967.2,1041.0 1000.8,1058.0 1034.4,1053.8 1068.0,1058.0 1101.6,1017.5 1135.2,1005.0 1168.8,985.0 1202.4,960.0 1236.0,885.0 1269.6,850.0 1303.2,825.0 1336.8,810.0 1370.4,800.0 1404.0,790.0 1437.6,795.0 1471.2,819.0 1504.8,827.0 1538.4,802.0 1572.0,780.0 1605.6,727.5 1639.2,681.6 1672.8,646.6 1706.4,620.0 1740.0,589.5 1773.6,547.2 1807.2,529.2"/>
<polyline class="d" stroke="#ff9900" points="228.0,1287.5 261.6,1295.6 295.2,1287.5 328.8,1305.7 362.4,1318.6 396.0,1297.2 429.6,1256.9 463.2,1198.9 496.8,1167.3 530.4,1212.4 564.0,1244.8 597.6,1262.5 631.2,1272.9 664.8,1278.5 698.4,1253.5 732.0,1225.0 765.6,1203.0 799.2,1195.0 832.8,1180.0 866.4,1166.0 900.0,1161.0 933.6,1137.5 967.2,1133.0 1000.8,1139.5 1034.4,1126.0 1068.0,1094.0 1101.6,1097.0 1135.2,1086.0 1168.8,1077.5 1202.4,1078.0 1236.0,1073.8 1269.6,1066.0 1303.2,1062.5 1336.8,1060.0 1370.4,1058.8 1404.0,1060.6 1437.6,1060.0 1471.2,1051.0 1504.8,1034.0 1538.4,1020.0 1572.0,1011.0 1605.6,998.0 1639.2,974.7 1672.8,967.0 1706.4,939.7 1740.0,922.0 1773.6,900.0 1807.2,882.8"/>
<polyline stroke="#333399" points="228.0,1287.5 261.6,1275.9 295.2,1253.4 328.8,1250.7 362.4,1220.0 396.0,1170.3 429.6,1135.8 463.2,1113.4 496.8,1109.3 530.4,1148.7 564.0,1167.4 597.6,1177.8 631.2,1180.2 664.8,1177.8 698.4,1139.1 732.0,1090.2 765.6,1050.4 799.2,1010.0 832.8,984.6 866.4,943.9 900.0,903.5 933.6,861.1 967.2,823.1 1000.8,794.1 1034.4,772.5 1068.0,765.0 1101.6,755.7 1135.2,748.5 1168.8,744.7 1202.4,747.6 1236.0,750.5 1269.6,742.1 1303.2,723.7 1336.8,698.3 1370.4,681.6 1404.0,672.7 1437.6,664.7 1471.2,652.4 1504.8,631.3 1538.4,616.9 1572.0,610.5 1605.6,603.1 1639.2,592.8 1672.8,562.9 1706.4,544.7 1740.0,532.2 1773.6,527.3 1807.2,506.5"/>
<polyline class="d" stroke="#99ccff" points="228.0,1287.5 261.6,1287.8 295.2,1273.1 328.8,1275.4 362.4,1276.7 396.0,1280.6 429.6,1292.1 463.2,1267.9 496.8,1255.0 530.4,1274.2 564.0,1301.6 597.6,1325.0 631.2,1385.0 664.8,1421.0 698.4,1362.5 732.0,1292.0 765.6,1240.0 799.2,1207.6 832.8,1164.1 866.4,1118.6 900.0,1090.7 933.6,1065.9 967.2,1056.9 1000.8,1054.6 1034.4,1055.9 1068.0,1034.6 1101.6,1016.7 1135.2,993.3 1168.8,971.3 1202.4,950.3 1236.0,963.2 1269.6,962.5 1303.2,935.7 1336.8,886.3 1370.4,866.7 1404.0,883.8 1437.6,883.2 1471.2,846.4 1504.8,790.6 1538.4,769.9 1572.0,779.8 1605.6,783.9 1639.2,751.2 1672.8,700.4 1706.4,653.1 1740.0,629.1 1773.6,620.7 1807.2,617.7"/>
<polyline class="d" stroke="#ccffcc" points="228.0,1287.5 261.6,1292.3 295.2,1286.7 328.8,1299.8 362.4,1275.7 396.0,1216.8 429.6,1164.6 463.2,1134.6 496.8,1147.7 530.4,1201.6 564.0,1236.4 597.6,1241.2 631.2,1238.6 664.8,1223.3 698.4,1171.8 732.0,1115.5 765.6,1073.2 799.2,1032.2 832.8,971.9 866.4,903.5 900.0,856.3 933.6,864.9 967.2,866.1 1000.8,850.0 1034.4,825.6 1068.0,803.0 1101.6,787.5 1135.2,761.6 1168.8,741.2 1202.4,728.6 1236.0,734.2 1269.6,715.6 1303.2,667.7 1336.8,619.2 1370.4,589.4 1404.0,594.7 1437.6,586.6 1471.2,574.1 1504.8,536.1 1538.4,492.8 1572.0,470.8 1605.6,469.0 1639.2,471.5 1672.8,465.5 1706.4,417.0 1740.0,388.8 1773.6,353.0 1807.2,333.4"/>
<polyline stroke="#800080" points="228.0,1287.5 261.6,1299.3 295.2,1300.1 328.8,1320.1 362.4,1314.4 396.0,1280.3 429.6,1241.0 463.2,1219.1 496.8,1217.7 530.4,1243.6 564.0,1255.7 597.6,1259.7 631.2,1263.3 664.8,1248.0 698.4,1186.6 732.0,1133.2 765.6,1096.0 799.2,1062.2 832.8,1022.7 866.4,988.4 900.0,964.6 933.6,952.9 967.2,938.7 1000.8,932.2 1034.4,929.6 1068.0,923.5 1101.6,907.7 1135.2,867.0 1168.8,827.8 1202.4,820.3 1236.0,835.9 1269.6,835.6 1303.2,804.2 1336.8,774.6 1370.4,767.8 1404.0,763.1 1437.6,767.0 1471.2,764.7 1504.8,770.9 1538.4,765.0 1572.0,739.5 1605.6,713.5 1639.2,675.8 1672.8,643.7 1706.4,610.3 1740.0,581.9 1773.6,566.5 1807.2,557.5"/>
<polyline class="d" stroke="#ff0000" points="228.0,1287.5 261.6,1265.0 295.2,1235.0 328.8,1207.5 362.4,1157.5 396.0,1087.5 429.6,1064.5 463.2,1064.5 496.8,1072.5 530.4,1092.5 564.0,1111.0 597.6,1107.5 631.2,1070.0 664.8,1045.0 698.4,997.5 732.0,950.0 765.6,910.0 799.2,887.0 832.8,852.0 866.4,820.0 900.0,792.5 933.6,784.0 967.2,772.0 1000.8,750.0 1034.4,710.0 1068.0,677.5 1101.6,612.5 1135.2,562.5 1168.8,539.0 1202.4,562.0 1236.0,562.5 1269.6,553.8 1303.2,537.5 1336.8,492.0 1370.4,442.5 1404.0,391.0 1437.6,363.8 1471.2,352.5 1504.8,342.0 1538.4,338.8 1572.0,316.0 1605.6,295.0 1639.2,263.8 1672.8,240.0 1706.4,217.5 1740.0,213.8 1773.6,195.0 1807.2,170.0"/>
<polyline stroke="#333300" points="228.0,1287.5 261.6,1280.8 295.2,1263.9 328.8,1248.0 362.4,1224.9 396.0,1204.5 429.6,1194.2 463.2,1147.6 496.8,1126.0 530.4,1163.3 564.0,1201.8 597.6,1225.9 631.2,1230.3 664.8,1207.4 698.4,1145.1 732.0,1086.1 765.6,1048.1 799.2,1011.7 832.8,970.0 866.4,922.2 900.0,871.4 933.6,857.1 967.2,856.4 1000.8,858.2 1034.4,861.1 1068.0,837.2 1101.6,815.3 1135.2,793.7 1168.8,769.7 1202.4,747.4 1236.0,720.3 1269.6,714.1 1303.2,700.4 1336.8,666.2 1370.4,637.0 1404.0,614.0 1437.6,623.0 1471.2,655.0 1504.8,650.0 1538.4,630.0 1572.0,600.0 1605.6,560.0 1639.2,506.0 1672.8,467.0 1706.4,438.4 1740.0,407.6 1773.6,390.0 1807.2,394.0"/>
<polyline class="d" stroke="#ff99cc" points="228.0,1287.5 261.6,1277.9 295.2,1274.4 328.8,1276.3 362.4,1240.6 396.0,1188.6 429.6,1145.6 463.2,1119.1 496.8,1101.2 530.4,1125.5 564.0,1138.5 597.6,1146.1 631.2,1160.2 664.8,1158.2 698.4,1113.0 732.0,1076.6 765.6,1055.8 799.2,1034.5 832.8,982.3 866.4,917.9 900.0,866.0 933.6,844.3 967.2,836.0 1000.8,823.1 1034.4,842.4 1068.0,844.9 1101.6,830.2 1135.2,807.7 1168.8,798.7 1202.4,806.0 1236.0,796.2 1269.6,770.0 1303.2,737.6 1336.8,709.2 1370.4,694.0 1404.0,696.2 1437.6,721.0 1471.2,749.9 1504.8,767.7 1538.4,751.4 1572.0,719.7 1605.6,682.1 1639.2,650.9 1672.8,637.5 1706.4,643.7 1740.0,643.0 1773.6,628.2 1807.2,613.5"/>
<polyline stroke="#993366" points="228.0,1287.5 261.6,1304.3 295.2,1304.0 328.8,1325.5 362.4,1309.0 396.0,1271.6 429.6,1226.5 463.2,1189.1 496.8,1180.2 530.4,1207.9 564.0,1229.7 597.6,1242.6 631.2,1260.8 664.8,1261.4 698.4,1212.6 732.0,1172.7 765.6,1119.2 799.2,1067.6 832.8,1011.6 866.4,968.6 900.0,942.2 933.6,936.6 967.2,942.1 1000.8,935.9 1034.4,931.6 1068.0,897.7 1101.6,848.6 1135.2,794.4 1168.8,775.5 1202.4,773.4 1236.0,790.4 1269.6,786.5 1303.2,781.4 1336.8,733.4 1370.4,693.4 1404.0,670.4 1437.6,651.5 1471.2,627.4 1504.8,612.4 1538.4,606.1 1572.0,581.8 1605.6,542.0 1639.2,506.0 1672.8,474.5 1706.4,460.0 1740.0,467.0 1773.6,475.0 1807.2,469.0"/>
<polyline stroke="#ff99cc" points="228.0,1287.5 261.6,1281.3 295.2,1265.6 328.8,1248.5 362.4,1213.0 396.0,1165.3 429.6,1153.7 463.2,1139.4 496.8,1115.4 530.4,1128.1 564.0,1135.4 597.6,1149.3 631.2,1160.7 664.8,1149.7 698.4,1103.9 732.0,1066.2 765.6,1030.0 799.2,992.0 832.8,955.9 866.4,929.8 900.0,899.8 933.6,882.3 967.2,869.5 1000.8,868.3 1034.4,856.4 1068.0,822.2 1101.6,803.7 1135.2,804.7 1168.8,794.0 1202.4,768.0 1236.0,731.4 1269.6,730.4 1303.2,714.9 1336.8,694.7 1370.4,684.6 1404.0,688.4 1437.6,708.8 1471.2,705.0 1504.8,700.5 1538.4,681.4 1572.0,656.0 1605.6,633.8 1639.2,610.7 1672.8,600.1 1706.4,588.8 1740.0,575.4 1773.6,562.8 1807.2,556.3"/>
<polyline class="d" stroke="#00ffff" points="228.0,1287.5 261.6,1291.3 295.2,1288.8 328.8,1300.6 362.4,1275.1 396.0,1222.8 429.6,1178.1 463.2,1140.7 496.8,1145.9 530.4,1193.6 564.0,1221.1 597.6,1238.7 631.2,1235.8 664.8,1231.0 698.4,1173.3 732.0,1124.0 765.6,1086.7 799.2,1043.5 832.8,1002.7 866.4,970.3 900.0,955.2 933.6,959.5 967.2,948.1 1000.8,930.0 1034.4,920.1 1068.0,906.9 1101.6,905.8 1135.2,898.2 1168.8,873.7 1202.4,862.7 1236.0,852.5 1269.6,850.1 1303.2,837.1 1336.8,819.3 1370.4,825.5 1404.0,832.5 1437.6,819.0 1471.2,808.0 1504.8,797.5 1538.4,791.0 1572.0,786.6 1605.6,782.0 1639.2,758.0 1672.8,734.0 1706.4,690.0 1740.0,683.8 1773.6,666.0 1807.2,665.8"/>
<polyline stroke="#333399" points="228.0,1287.5 261.6,1304.3 295.2,1325.5 328.8,1344.8 362.4,1303.9 396.0,1267.1 429.6,1261.2 463.2,1245.9 496.8,1180.2 530.4,1181.0 564.0,1204.4 597.6,1227.8 631.2,1219.1 664.8,1196.3 698.4,1143.6 732.0,1101.0 765.6,1070.8 799.2,1026.9 832.8,981.6 866.4,905.4 900.0,863.0 933.6,837.6 967.2,828.9 1000.8,818.6 1034.4,774.1 1068.0,739.8 1101.6,710.2 1135.2,727.1 1168.8,708.1 1202.4,670.0 1236.0,647.5 1269.6,628.8 1303.2,606.7 1336.8,628.0 1370.4,621.0 1404.0,571.7 1437.6,542.5 1471.2,554.0 1504.8,533.0 1538.4,536.0 1572.0,596.7 1605.6,615.0 1639.2,591.7 1672.8,557.9 1706.4,522.1 1740.0,531.4 1773.6,532.7 1807.2,525.9"/>
<polyline class="d" stroke="#333300" points="228.0,1287.5 261.6,1271.9 295.2,1261.2 328.8,1245.7 362.4,1225.5 396.0,1193.5 429.6,1153.7 463.2,1096.4 496.8,1082.0 530.4,1155.1 564.0,1192.8 597.6,1208.8 631.2,1209.6 664.8,1197.3 698.4,1146.3 732.0,1095.1 765.6,1045.0 799.2,988.4 832.8,939.9 866.4,904.1 900.0,888.8 933.6,868.5 967.2,857.7 1000.8,839.0 1034.4,835.7 1068.0,838.5 1101.6,831.0 1135.2,830.3 1168.8,811.8 1202.4,796.5 1236.0,781.0 1269.6,767.6 1303.2,756.1 1336.8,737.2 1370.4,695.4 1404.0,666.4 1437.6,651.5 1471.2,641.5 1504.8,640.2 1538.4,628.0 1572.0,618.7 1605.6,615.2 1639.2,619.8 1672.8,617.7 1706.4,601.6 1740.0,553.9 1773.6,529.7 1807.2,537.0"/>
<polyline stroke="#ccccff" points="228.0,1287.5 261.6,1303.0 295.2,1305.9 328.8,1330.9 362.4,1333.9 396.0,1326.3 429.6,1322.8 463.2,1303.9 496.8,1289.3 530.4,1312.5 564.0,1357.5 597.6,1382.5 631.2,1396.0 664.8,1393.8 698.4,1347.0 732.0,1290.0 765.6,1245.0 799.2,1200.0 832.8,1160.0 866.4,1130.0 900.0,1105.0 933.6,1085.0 967.2,1070.0 1000.8,1055.0 1034.4,1045.0 1068.0,1035.0 1101.6,1025.0 1135.2,1015.0 1168.8,1005.0 1202.4,995.0 1236.0,986.0 1269.6,960.0 1303.2,933.8 1336.8,930.0 1370.4,936.0 1404.0,926.0 1437.6,927.7 1471.2,927.7 1504.8,912.4 1538.4,893.8 1572.0,874.0 1605.6,847.8 1639.2,841.0 1672.8,838.0 1706.4,824.9 1740.0,811.7 1773.6,792.0 1807.2,761.4"/>
<polyline stroke="#cc99ff" points="228.0,1287.5 261.6,1312.0 295.2,1335.9 328.8,1359.6 362.4,1346.0 396.0,1324.4 429.6,1282.2 463.2,1233.9 496.8,1193.2 530.4,1212.9 564.0,1233.6 597.6,1248.3 631.2,1255.1 664.8,1246.8 698.4,1206.4 732.0,1171.1 765.6,1114.8 799.2,1051.6 832.8,992.1 866.4,957.2 900.0,944.6 933.6,942.3 967.2,920.7 1000.8,897.4 1034.4,871.9 1068.0,862.7 1101.6,840.0 1135.2,805.7 1168.8,779.3 1202.4,764.8 1236.0,779.2 1269.6,769.7 1303.2,732.9 1336.8,671.6 1370.4,627.0 1404.0,628.0 1437.6,635.0 1471.2,603.0 1504.8,593.0 1538.4,591.0 1572.0,563.0 1605.6,536.0 1639.2,513.7 1672.8,488.0 1706.4,464.0 1740.0,431.0 1773.6,410.6 1807.2,401.0"/>
<polyline stroke="#ff00ff" points="228.0,1287.5 261.6,1325.0 295.2,1372.5 328.8,1391.0 362.4,1391.0 396.0,1350.0 429.6,1320.0 463.2,1275.0 496.8,1266.0 530.4,1310.0 564.0,1306.7 597.6,1288.2 631.2,1289.2 664.8,1287.5 698.4,1249.1 732.0,1204.9 765.6,1154.8 799.2,1094.2 832.8,1049.2 866.4,1025.4 900.0,1005.8 933.6,975.9 967.2,943.4 1000.8,924.5 1034.4,906.7 1068.0,898.5 1101.6,883.9 1135.2,875.4 1168.8,845.3 1202.4,813.4 1236.0,802.9 1269.6,767.2 1303.2,736.0 1336.8,699.6 1370.4,687.4 1404.0,691.4 1437.6,670.5 1471.2,659.3 1504.8,637.6 1538.4,628.2 1572.0,607.8 1605.6,583.3 1639.2,566.0 1672.8,542.9 1706.4,506.2 1740.0,462.3 1773.6,456.7 1807.2,450.1"/>
<polyline stroke="#800080" points="228.0,1287.5 261.6,1247.5 295.2,1266.0 328.8,1262.1 362.4,1239.5 396.0,1193.0 429.6,1152.3 463.2,1115.0 496.8,1089.8 530.4,1113.2 564.0,1134.3 597.6,1132.8 631.2,1115.7 664.8,1080.6 698.4,1027.4 732.0,981.6 765.6,932.0 799.2,876.0 832.8,869.0 866.4,850.0 900.0,792.5 933.6,786.0 967.2,812.0 1000.8,730.0 1034.4,695.0 1068.0,690.0 1101.6,657.5 1135.2,602.5 1168.8,616.0 1202.4,632.0 1236.0,597.5 1269.6,544.5 1303.2,551.0 1336.8,557.0 1370.4,527.0 1404.0,505.0 1437.6,485.0 1471.2,461.0 1504.8,420.0 1538.4,345.0 1572.0,328.8 1605.6,328.8 1639.2,313.8 1672.8,265.5 1706.4,230.0 1740.0,160.5 1773.6,141.0 1807.2,118.8"/>
<polyline stroke="#ffcc00" points="228.0,1287.5 261.6,1310.0 295.2,1340.0 328.8,1372.5 362.4,1370.0 396.0,1340.0 429.6,1345.0 463.2,1350.0 496.8,1348.0 530.4,1372.5 564.0,1386.0 597.6,1395.0 631.2,1396.0 664.8,1375.0 698.4,1346.0 732.0,1300.0 765.6,1225.0 799.2,1205.0 832.8,1150.0 866.4,1110.0 900.0,1094.0 933.6,1097.5 967.2,1025.0 1000.8,1015.0 1034.4,1019.0 1068.0,1020.0 1101.6,1015.0 1135.2,1000.0 1168.8,985.0 1202.4,970.0 1236.0,955.0 1269.6,945.0 1303.2,906.0 1336.8,893.8 1370.4,905.0 1404.0,893.0 1437.6,869.7 1471.2,892.7 1504.8,869.7 1538.4,815.0 1572.0,811.7 1605.6,791.0 1639.2,773.5 1672.8,770.0 1706.4,756.0 1740.0,740.6 1773.6,728.6 1807.2,716.0"/>
<polyline stroke="#ff6600" points="228.0,1287.5 261.6,1267.3 295.2,1247.6 328.8,1249.9 362.4,1233.5 396.0,1189.1 429.6,1161.8 463.2,1130.0 496.8,1097.5 530.4,1005.0 564.0,950.8 597.6,920.8 631.2,925.0 664.8,937.0 698.4,925.0 732.0,921.0 765.6,937.0 799.2,882.0 832.8,847.5 866.4,824.0 900.0,832.5 933.6,822.0 967.2,809.0 1000.8,807.5 1034.4,794.0 1068.0,755.0 1101.6,722.5 1135.2,705.0 1168.8,695.0 1202.4,685.0 1236.0,675.0 1269.6,665.0 1303.2,645.0 1336.8,598.0 1370.4,573.0 1404.0,580.0 1437.6,542.5 1471.2,523.0 1504.8,501.7 1538.4,491.7 1572.0,485.0 1605.6,433.8 1639.2,432.0 1672.8,430.0 1706.4,395.0 1740.0,380.0 1773.6,397.5 1807.2,347.5"/>
<polyline class="d" stroke="#333300" points="228.0,1287.5 261.6,1305.8 295.2,1301.3 328.8,1309.3 362.4,1279.8 396.0,1227.6 429.6,1165.0 463.2,1131.4 496.8,1123.1 530.4,1150.8 564.0,1170.8 597.6,1190.5 631.2,1208.9 664.8,1198.5 698.4,1142.5 732.0,1095.8 765.6,1059.8 799.2,1019.9 832.8,985.0 866.4,947.6 900.0,901.6 933.6,873.5 967.2,853.6 1000.8,846.1 1034.4,829.4 1068.0,816.6 1101.6,823.4 1135.2,831.4 1168.8,818.4 1202.4,795.2 1236.0,769.6 1269.6,736.4 1303.2,699.5 1336.8,675.6 1370.4,663.7 1404.0,663.1 1437.6,658.8 1471.2,651.9 1504.8,622.4 1538.4,572.9 1572.0,543.1 1605.6,537.1 1639.2,541.2 1672.8,523.8 1706.4,494.0 1740.0,479.0 1773.6,470.0 1807.2,495.6"/>
<polyline stroke="#99ccff" points="228.0,1287.5 261.6,1275.2 295.2,1236.3 328.8,1231.7 362.4,1227.4 396.0,1216.4 429.6,1198.1 463.2,1162.6 496.8,1132.5 530.4,1137.6 564.0,1144.0 597.6,1150.9 631.2,1166.5 664.8,1159.9 698.4,1104.5 732.0,1044.6 765.6,1012.2 799.2,995.7 832.8,949.1 866.4,883.0 900.0,853.1 933.6,846.6 967.2,831.0 1000.8,838.8 1034.4,836.0 1068.0,780.0 1101.6,742.5 1135.2,763.8 1168.8,740.7 1202.4,727.8 1236.0,751.9 1269.6,761.9 1303.2,736.0 1336.8,671.2 1370.4,614.0 1404.0,613.9 1437.6,627.1 1471.2,628.3 1504.8,603.7 1538.4,589.3 1572.0,564.9 1605.6,551.8 1639.2,536.9 1672.8,534.8 1706.4,509.0 1740.0,491.0 1773.6,484.0 1807.2,479.0"/>
<polyline class="d" stroke="#ff99cc" points="228.0,1287.5 261.6,1307.2 295.2,1318.5 328.8,1326.5 362.4,1313.2 396.0,1284.7 429.6,1260.5 463.2,1236.1 496.8,1214.7 530.4,1212.7 564.0,1218.2 597.6,1224.6 631.2,1242.4 664.8,1239.0 698.4,1188.6 732.0,1144.8 765.6,1118.8 799.2,1081.5 832.8,1021.7 866.4,966.0 900.0,934.4 933.6,920.9 967.2,905.2 1000.8,892.1 1034.4,873.6 1068.0,848.3 1101.6,832.0 1135.2,822.7 1168.8,810.3 1202.4,778.2 1236.0,741.5 1269.6,707.1 1303.2,686.4 1336.8,655.7 1370.4,629.6 1404.0,621.1 1437.6,616.4 1471.2,613.3 1504.8,586.0 1538.4,567.6 1572.0,555.8 1605.6,535.9 1639.2,509.0 1672.8,507.6 1706.4,465.5 1740.0,414.0 1773.6,397.8 1807.2,386.5"/>
<polyline class="d" stroke="#333399" points="228.0,1287.5 261.6,1289.7 295.2,1269.2 328.8,1257.3 362.4,1232.5 396.0,1209.5 429.6,1204.4 463.2,1205.7 496.8,1186.5 530.4,1188.0 564.0,1204.3 597.6,1220.7 631.2,1214.8 664.8,1179.9 698.4,1106.3 732.0,1049.3 765.6,1009.2 799.2,979.3 832.8,957.4 866.4,929.4 900.0,893.2 933.6,864.7 967.2,848.9 1000.8,842.7 1034.4,843.6 1068.0,832.2 1101.6,802.7 1135.2,780.8 1168.8,769.0 1202.4,760.1 1236.0,731.5 1269.6,690.0 1303.2,666.9 1336.8,627.4 1370.4,590.1 1404.0,559.3 1437.6,558.6 1471.2,554.2 1504.8,535.0 1538.4,513.0 1572.0,514.0 1605.6,531.7 1639.2,521.5 1672.8,511.1 1706.4,488.3 1740.0,472.9 1773.6,464.9 1807.2,483.0"/>
<polyline class="d" stroke="#339966" points="228.0,1287.5 261.6,1273.5 295.2,1242.4 328.8,1235.4 362.4,1216.2 396.0,1198.5 429.6,1186.7 463.2,1173.0 496.8,1140.6 530.4,1129.6 564.0,1131.5 597.6,1152.7 631.2,1168.8 664.8,1161.2 698.4,1108.3 732.0,1054.6 765.6,1022.1 799.2,984.7 832.8,968.3 866.4,941.7 900.0,900.6 933.6,863.0 967.2,834.5 1000.8,821.5 1034.4,796.4 1068.0,773.1 1101.6,761.7 1135.2,781.1 1168.8,787.2 1202.4,778.8 1236.0,747.0 1269.6,692.2 1303.2,647.8 1336.8,640.7 1370.4,651.2 1404.0,663.9 1437.6,635.5 1471.2,612.6 1504.8,610.8 1538.4,617.6 1572.0,604.8 1605.6,575.0 1639.2,540.0 1672.8,462.5 1706.4,389.0 1740.0,333.0 1773.6,294.0 1807.2,256.0"/>
<polyline class="d" stroke="#99ccff" points="228.0,1287.5 261.6,1295.1 295.2,1293.6 328.8,1297.9 362.4,1283.1 396.0,1253.8 429.6,1227.7 463.2,1182.1 496.8,1146.2 530.4,1166.6 564.0,1175.0 597.6,1183.1 631.2,1189.1 664.8,1189.5 698.4,1144.4 732.0,1089.7 765.6,1038.5 799.2,995.5 832.8,951.0 866.4,910.3 900.0,886.3 933.6,883.2 967.2,862.9 1000.8,834.8 1034.4,829.7 1068.0,836.1 1101.6,822.5 1135.2,789.8 1168.8,779.2 1202.4,790.5 1236.0,777.4 1269.6,744.5 1303.2,689.3 1336.8,640.8 1370.4,616.8 1404.0,616.7 1437.6,591.7 1471.2,566.7 1504.8,561.7 1538.4,548.0 1572.0,548.0 1605.6,553.0 1639.2,545.0 1672.8,520.0 1706.4,490.0 1740.0,449.0 1773.6,413.6 1807.2,381.0"/>
<polyline class="d" stroke="#ffcc00" points="228.0,1287.5 261.6,1310.3 295.2,1307.9 328.8,1323.3 362.4,1326.8 396.0,1313.8 429.6,1286.5 463.2,1253.9 496.8,1222.2 530.4,1239.3 564.0,1258.3 597.6,1289.2 631.2,1319.8 664.8,1322.9 698.4,1263.0 732.0,1207.3 765.6,1163.1 799.2,1136.4 832.8,1108.6 866.4,1083.1 900.0,1051.8 933.6,1018.2 967.2,983.5 1000.8,952.4 1034.4,929.5 1068.0,924.2 1101.6,915.7 1135.2,903.5 1168.8,895.9 1202.4,899.0 1236.0,898.7 1269.6,876.4 1303.2,853.0 1336.8,826.1 1370.4,794.2 1404.0,753.9 1437.6,735.2 1471.2,725.7 1504.8,730.1 1538.4,741.0 1572.0,748.8 1605.6,737.6 1639.2,720.8 1672.8,679.0 1706.4,645.3 1740.0,603.1 1773.6,581.6 1807.2,564.0"/>
<polyline class="d" stroke="#33cccc" points="228.0,1287.5 261.6,1309.4 295.2,1324.6 328.8,1353.8 362.4,1333.0 396.0,1289.7 429.6,1239.2 463.2,1201.9 496.8,1190.6 530.4,1228.8 564.0,1249.9 597.6,1261.4 631.2,1253.2 664.8,1236.3 698.4,1182.8 732.0,1139.2 765.6,1097.8 799.2,1051.4 832.8,998.4 866.4,957.5 900.0,923.7 933.6,904.7 967.2,868.9 1000.8,831.9 1034.4,828.1 1068.0,836.1 1101.6,838.6 1135.2,814.9 1168.8,785.6 1202.4,780.2 1236.0,776.4 1269.6,763.7 1303.2,724.7 1336.8,693.0 1370.4,680.6 1404.0,681.1 1437.6,668.9 1471.2,639.1 1504.8,610.5 1538.4,591.7 1572.0,588.0 1605.6,555.0 1639.2,543.8 1672.8,527.2 1706.4,505.6 1740.0,484.2 1773.6,478.0 1807.2,466.0"/>
<polyline stroke="#00ff00" points="228.0,1287.5 261.6,1310.0 295.2,1350.0 328.8,1380.0 362.4,1388.8 396.0,1365.0 429.6,1345.0 463.2,1305.0 496.8,1266.0 530.4,1266.0 564.0,1289.1 597.6,1303.2 631.2,1314.6 664.8,1316.9 698.4,1281.8 732.0,1243.2 765.6,1188.6 799.2,1155.0 832.8,1140.0 866.4,1105.0 900.0,1082.0 933.6,1062.0 967.2,1047.0 1000.8,1027.0 1034.4,1010.0 1068.0,995.0 1101.6,980.0 1135.2,965.0 1168.8,950.0 1202.4,940.0 1236.0,927.5 1269.6,922.5 1303.2,887.5 1336.8,847.5 1370.4,822.5 1404.0,816.0 1437.6,815.0 1471.2,818.0 1504.8,818.0 1538.4,808.5 1572.0,797.5 1605.6,765.8 1639.2,761.4 1672.8,744.0 1706.4,733.0 1740.0,704.5 1773.6,694.7 1807.2,660.8"/>
<polyline stroke="#ffcc00" points="228.0,1287.5 261.6,1287.4 295.2,1286.6 328.8,1284.7 362.4,1263.9 396.0,1226.3 429.6,1204.4 463.2,1175.4 496.8,1144.0 530.4,1160.7 564.0,1182.4 597.6,1209.7 631.2,1211.0 664.8,1191.2 698.4,1121.2 732.0,1066.5 765.6,1040.7 799.2,1030.2 832.8,987.3 866.4,940.0 900.0,913.2 933.6,919.1 967.2,907.9 1000.8,883.2 1034.4,880.7 1068.0,887.1 1101.6,880.6 1135.2,842.3 1168.8,782.7 1202.4,748.9 1236.0,733.2 1269.6,735.6 1303.2,739.8 1336.8,740.0 1370.4,748.3 1404.0,729.2 1437.6,715.6 1471.2,681.7 1504.8,676.6 1538.4,673.6 1572.0,668.8 1605.6,639.5 1639.2,613.2 1672.8,617.8 1706.4,624.7 1740.0,609.3 1773.6,575.1 1807.2,559.8"/>
<polyline stroke="#008080" points="228.0,1287.5 261.6,1265.0 295.2,1237.5 328.8,1237.5 362.4,1237.5 396.0,1205.0 429.6,1160.0 463.2,1120.0 496.8,1092.0 530.4,1051.0 564.0,1052.5 597.6,1108.8 631.2,1088.8 664.8,1051.0 698.4,1052.5 732.0,1010.0 765.6,975.0 799.2,940.0 832.8,905.0 866.4,880.0 900.0,850.0 933.6,817.5 967.2,775.0 1000.8,700.0 1034.4,626.0 1068.0,587.0 1101.6,567.5 1135.2,543.0 1168.8,550.5 1202.4,562.5 1236.0,571.0 1269.6,592.5 1303.2,577.5 1336.8,535.0 1370.4,490.0 1404.0,455.0 1437.6,390.0 1471.2,389.0 1504.8,388.0 1538.4,345.0 1572.0,324.0 1605.6,306.0 1639.2,276.0 1672.8,227.5 1706.4,204.0 1740.0,176.0 1773.6,152.0 1807.2,110.5"/>
<polyline class="d" stroke="#333300" points="228.0,1287.5 261.6,1295.1 295.2,1293.4 328.8,1295.2 362.4,1268.7 396.0,1223.4 429.6,1189.5 463.2,1172.8 496.8,1168.2 530.4,1184.5 564.0,1189.1 597.6,1206.1 631.2,1222.4 664.8,1211.1 698.4,1155.0 732.0,1118.9 765.6,1106.4 799.2,1077.6 832.8,1027.0 866.4,977.4 900.0,937.8 933.6,921.9 967.2,905.0 1000.8,829.0 1034.4,752.0 1068.0,718.0 1101.6,728.1 1135.2,728.3 1168.8,727.3 1202.4,725.6 1236.0,724.7 1269.6,730.7 1303.2,727.2 1336.8,687.0 1370.4,648.1 1404.0,636.4 1437.6,681.2 1471.2,717.1 1504.8,719.3 1538.4,698.4 1572.0,662.7 1605.6,625.0 1639.2,582.6 1672.8,544.6 1706.4,545.7 1740.0,541.9 1773.6,550.8 1807.2,544.5"/>
<polyline stroke="#ff6600" points="228.0,1287.5 261.6,1250.0 295.2,1201.0 328.8,1183.0 362.4,1175.0 396.0,1127.5 429.6,1077.5 463.2,1015.0 496.8,983.8 530.4,1006.0 564.0,1021.0 597.6,1036.0 631.2,1066.0 664.8,1065.5 698.4,1000.0 732.0,945.1 765.6,901.4 799.2,864.6 832.8,837.8 866.4,824.0 900.0,823.7 933.6,813.1 967.2,772.7 1000.8,717.1 1034.4,684.3 1068.0,700.9 1101.6,708.3 1135.2,717.3 1168.8,689.3 1202.4,675.7 1236.0,663.2 1269.6,637.1 1303.2,615.3 1336.8,604.8 1370.4,603.0 1404.0,595.4 1437.6,589.1 1471.2,589.4 1504.8,602.1 1538.4,594.8 1572.0,586.3 1605.6,563.4 1639.2,535.0 1672.8,503.1 1706.4,482.4 1740.0,452.7 1773.6,448.9 1807.2,456.7"/>
<polyline stroke="#99cc00" points="228.0,1287.5 261.6,1304.6 295.2,1321.9 328.8,1344.5 362.4,1340.2 396.0,1302.8 429.6,1266.4 463.2,1230.3 496.8,1217.1 530.4,1233.5 564.0,1237.0 597.6,1247.4 631.2,1264.1 664.8,1262.2 698.4,1201.6 732.0,1153.9 765.6,1103.7 799.2,1064.7 832.8,1029.8 866.4,1005.2 900.0,975.2 933.6,945.5 967.2,918.1 1000.8,898.6 1034.4,898.4 1068.0,905.3 1101.6,923.5 1135.2,914.0 1168.8,890.3 1202.4,857.5 1236.0,820.4 1269.6,785.8 1303.2,772.9 1336.8,754.9 1370.4,724.1 1404.0,686.3 1437.6,682.0 1471.2,670.9 1504.8,646.2 1538.4,624.4 1572.0,609.5 1605.6,571.9 1639.2,525.7 1672.8,473.0 1706.4,453.5 1740.0,462.5 1773.6,470.8 1807.2,432.4"/>
<polyline stroke="#003300" points="228.0,1287.5 261.6,1306.9 295.2,1317.4 328.8,1342.9 362.4,1344.1 396.0,1306.3 429.6,1272.2 463.2,1246.9 496.8,1214.6 530.4,1230.1 564.0,1237.4 597.6,1254.8 631.2,1264.2 664.8,1258.7 698.4,1222.1 732.0,1192.0 765.6,1160.6 799.2,1119.4 832.8,1078.4 866.4,1039.9 900.0,1012.3 933.6,1000.9 967.2,1008.0 1000.8,1004.8 1034.4,990.5 1068.0,980.7 1101.6,967.5 1135.2,948.0 1168.8,893.2 1202.4,862.0 1236.0,858.3 1269.6,859.5 1303.2,844.4 1336.8,820.3 1370.4,805.1 1404.0,793.3 1437.6,767.8 1471.2,739.3 1504.8,720.6 1538.4,710.8 1572.0,703.4 1605.6,693.4 1639.2,673.4 1672.8,651.8 1706.4,621.9 1740.0,589.4 1773.6,564.2 1807.2,546.8"/>
<polyline stroke="#ff9900" points="228.0,1287.5 261.6,1272.7 295.2,1253.1 328.8,1258.7 362.4,1249.0 396.0,1199.7 429.6,1167.6 463.2,1138.6 496.8,1126.2 530.4,1150.8 564.0,1167.7 597.6,1177.0 631.2,1174.5 664.8,1165.4 698.4,1118.3 732.0,1076.4 765.6,1023.4 799.2,963.8 832.8,911.3 866.4,872.4 900.0,832.5 933.6,824.0 967.2,812.5 1000.8,809.0 1034.4,802.5 1068.0,789.0 1101.6,787.5 1135.2,776.0 1168.8,759.3 1202.4,750.0 1236.0,727.9 1269.6,691.4 1303.2,652.0 1336.8,638.8 1370.4,627.0 1404.0,597.5 1437.6,607.5 1471.2,589.0 1504.8,585.0 1538.4,601.7 1572.0,562.0 1605.6,524.0 1639.2,494.0 1672.8,453.5 1706.4,414.0 1740.0,416.0 1773.6,417.0 1807.2,385.0"/>
<polyline class="d" stroke="#003300" points="228.0,1287.5 261.6,1288.9 295.2,1296.1 328.8,1302.1 362.4,1273.2 396.0,1226.5 429.6,1218.5 463.2,1208.4 496.8,1200.4 530.4,1243.0 564.0,1282.9 597.6,1310.0 631.2,1363.8 664.8,1387.5 698.4,1300.0 732.0,1236.7 765.6,1180.4 799.2,1142.8 832.8,1117.4 866.4,1095.5 900.0,1056.6 933.6,1022.5 967.2,1000.7 1000.8,990.9 1034.4,972.1 1068.0,925.1 1101.6,884.4 1135.2,871.1 1168.8,875.0 1202.4,866.6 1236.0,841.0 1269.6,815.4 1303.2,811.5 1336.8,805.3 1370.4,794.0 1404.0,778.0 1437.6,755.0 1471.2,731.7 1504.8,705.9 1538.4,696.9 1572.0,677.0 1605.6,664.0 1639.2,638.8 1672.8,615.3 1706.4,597.8 1740.0,577.4 1773.6,554.1 1807.2,522.7"/>
<polyline class="d" stroke="#33cccc" points="228.0,1287.5 261.6,1290.5 295.2,1256.6 328.8,1240.8 362.4,1240.0 396.0,1230.3 429.6,1201.2 463.2,1153.6 496.8,1123.3 530.4,1157.8 564.0,1189.2 597.6,1216.4 631.2,1222.6 664.8,1210.9 698.4,1153.6 732.0,1101.9 765.6,1034.9 799.2,979.2 832.8,950.1 866.4,914.4 900.0,881.9 933.6,847.4 967.2,820.3 1000.8,795.5 1034.4,793.7 1068.0,811.4 1101.6,816.0 1135.2,793.1 1168.8,734.5 1202.4,709.5 1236.0,712.9 1269.6,705.2 1303.2,674.0 1336.8,637.1 1370.4,626.8 1404.0,602.8 1437.6,581.7 1471.2,573.0 1504.8,579.8 1538.4,585.8 1572.0,576.6 1605.6,543.2 1639.2,503.0 1672.8,453.5 1706.4,414.0 1740.0,378.0 1773.6,343.6 1807.2,318.8"/>
<polyline stroke="#808000" points="228.0,1287.5 261.6,1281.8 295.2,1269.1 328.8,1262.3 362.4,1234.1 396.0,1184.7 429.6,1149.2 463.2,1110.2 496.8,1086.0 530.4,1108.4 564.0,1121.0 597.6,1085.0 631.2,1041.0 664.8,1030.0 698.4,1032.5 732.0,994.3 765.6,947.5 799.2,912.1 832.8,878.3 866.4,870.6 900.0,874.8 933.6,878.5 967.2,862.7 1000.8,855.2 1034.4,854.5 1068.0,853.5 1101.6,830.8 1135.2,822.2 1168.8,816.3 1202.4,815.2 1236.0,799.3 1269.6,799.3 1303.2,804.8 1336.8,798.3 1370.4,774.7 1404.0,766.3 1437.6,759.0 1471.2,748.4 1504.8,724.9 1538.4,694.9 1572.0,689.4 1605.6,680.7 1639.2,685.3 1672.8,653.0 1706.4,607.9 1740.0,559.4 1773.6,539.9 1807.2,546.4"/>
<polyline stroke="#00ccff" points="228.0,1287.5 261.6,1250.0 295.2,1228.0 328.8,1231.0 362.4,1236.0 396.0,1200.0 429.6,1170.6 463.2,1137.0 496.8,1103.9 530.4,1102.8 564.0,1099.4 597.6,1107.8 631.2,1120.7 664.8,1107.8 698.4,1016.5 732.0,956.0 765.6,930.0 799.2,860.0 832.8,824.0 866.4,797.5 900.0,777.5 933.6,771.0 967.2,774.0 1000.8,700.0 1034.4,702.0 1068.0,696.0 1101.6,668.8 1135.2,612.5 1168.8,560.0 1202.4,561.0 1236.0,540.0 1269.6,513.8 1303.2,478.8 1336.8,456.0 1370.4,441.0 1404.0,430.0 1437.6,400.0 1471.2,397.0 1504.8,380.0 1538.4,341.0 1572.0,297.5 1605.6,273.8 1639.2,258.8 1672.8,197.5 1706.4,157.0 1740.0,130.0 1773.6,106.0 1807.2,92.0"/>
<polyline class="d" stroke="#00ffff" points="228.0,1287.5 261.6,1285.0 295.2,1285.7 328.8,1318.5 362.4,1327.3 396.0,1289.4 429.6,1249.8 463.2,1230.3 496.8,1205.8 530.4,1221.3 564.0,1230.1 597.6,1242.7 631.2,1254.4 664.8,1261.2 698.4,1215.2 732.0,1151.4 765.6,1088.0 799.2,1042.5 832.8,1025.0 866.4,1004.2 900.0,971.9 933.6,944.5 967.2,916.1 1000.8,904.9 1034.4,894.8 1068.0,899.6 1101.6,899.9 1135.2,893.2 1168.8,866.8 1202.4,838.6 1236.0,805.6 1269.6,769.2 1303.2,748.6 1336.8,738.0 1370.4,738.6 1404.0,734.8 1437.6,745.3 1471.2,731.7 1504.8,708.6 1538.4,675.8 1572.0,648.6 1605.6,629.5 1639.2,612.7 1672.8,598.0 1706.4,591.4 1740.0,571.8 1773.6,553.4 1807.2,525.3"/>
<polyline stroke="#ffcc00" points="228.0,1287.5 261.6,1298.3 295.2,1294.4 328.8,1290.4 362.4,1252.8 396.0,1206.5 429.6,1192.9 463.2,1174.2 496.8,1149.7 530.4,1177.3 564.0,1205.6 597.6,1241.9 631.2,1263.5 664.8,1245.0 698.4,1205.2 732.0,1180.0 765.6,1158.6 799.2,1106.2 832.8,1050.7 866.4,1011.2 900.0,998.7 933.6,990.4 967.2,966.8 1000.8,936.8 1034.4,926.2 1068.0,929.1 1101.6,942.7 1135.2,950.3 1168.8,963.5 1202.4,950.8 1236.0,935.0 1269.6,917.5 1303.2,908.8 1336.8,901.0 1370.4,901.0 1404.0,877.0 1437.6,857.7 1471.2,858.8 1504.8,836.9 1538.4,812.8 1572.0,791.0 1605.6,734.0 1639.2,690.0 1672.8,660.7 1706.4,632.4 1740.0,589.0 1773.6,548.9 1807.2,512.5"/>
<polyline stroke="#0000ff" points="228.0,1287.5 261.6,1306.4 295.2,1314.0 328.8,1341.5 362.4,1349.2 396.0,1337.7 429.6,1312.0 463.2,1289.6 496.8,1254.5 530.4,1261.0 564.0,1278.5 597.6,1301.1 631.2,1319.2 664.8,1301.7 698.4,1245.3 732.0,1186.7 765.6,1132.3 799.2,1081.9 832.8,1040.1 866.4,1008.6 900.0,980.2 933.6,968.1 967.2,970.4 1000.8,987.8 1034.4,988.3 1068.0,969.4 1101.6,942.0 1135.2,918.8 1168.8,904.8 1202.4,882.1 1236.0,860.4 1269.6,825.2 1303.2,795.4 1336.8,776.2 1370.4,753.3 1404.0,733.8 1437.6,718.0 1471.2,712.2 1504.8,702.4 1538.4,689.1 1572.0,676.9 1605.6,658.1 1639.2,613.4 1672.8,574.3 1706.4,550.6 1740.0,525.7 1773.6,498.6 1807.2,495.0"/>
<polyline stroke="#993366" points="228.0,1287.5 261.6,1299.0 295.2,1306.5 328.8,1326.6 362.4,1329.1 396.0,1306.2 429.6,1277.0 463.2,1246.9 496.8,1217.6 530.4,1230.9 564.0,1233.7 597.6,1248.1 631.2,1257.6 664.8,1256.4 698.4,1201.7 732.0,1152.9 765.6,1102.4 799.2,1050.5 832.8,1013.1 866.4,989.1 900.0,970.3 933.6,949.2 967.2,941.4 1000.8,941.5 1034.4,936.0 1068.0,927.9 1101.6,934.0 1135.2,946.4 1168.8,949.1 1202.4,930.7 1236.0,900.4 1269.6,870.3 1303.2,849.8 1336.8,827.5 1370.4,805.8 1404.0,791.3 1437.6,782.0 1471.2,797.5 1504.8,812.8 1538.4,823.8 1572.0,827.0 1605.6,817.0 1639.2,793.0 1672.8,760.0 1706.4,738.4 1740.0,717.7 1773.6,699.0 1807.2,693.6"/>
<polyline class="d" stroke="#00ffff" points="228.0,1287.5 261.6,1275.4 295.2,1259.3 328.8,1271.1 362.4,1238.6 396.0,1181.4 429.6,1149.4 463.2,1135.3 496.8,1119.8 530.4,1119.5 564.0,1112.0 597.6,1121.7 631.2,1150.2 664.8,1169.8 698.4,1129.7 732.0,1081.6 765.6,1035.9 799.2,979.9 832.8,920.5 866.4,876.3 900.0,843.0 933.6,795.0 967.2,730.0 1000.8,662.5 1034.4,647.0 1068.0,643.0 1101.6,638.8 1135.2,646.0 1168.8,662.5 1202.4,617.5 1236.0,555.0 1269.6,513.8 1303.2,496.0 1336.8,470.0 1370.4,480.0 1404.0,510.0 1437.6,530.0 1471.2,537.0 1504.8,520.0 1538.4,490.0 1572.0,467.5 1605.6,430.0 1639.2,388.8 1672.8,356.0 1706.4,340.0 1740.0,345.0 1773.6,357.5 1807.2,342.5"/>
<polyline stroke="#cc99ff" points="228.0,1287.5 261.6,1304.0 295.2,1303.2 328.8,1310.3 362.4,1283.8 396.0,1252.2 429.6,1238.7 463.2,1215.4 496.8,1216.3 530.4,1230.9 564.0,1243.1 597.6,1241.8 631.2,1242.0 664.8,1238.5 698.4,1200.0 732.0,1154.3 765.6,1107.1 799.2,1059.1 832.8,1022.7 866.4,994.6 900.0,974.1 933.6,948.7 967.2,925.9 1000.8,902.2 1034.4,913.5 1068.0,922.7 1101.6,927.7 1135.2,908.3 1168.8,893.7 1202.4,885.4 1236.0,872.3 1269.6,846.6 1303.2,817.0 1336.8,794.2 1370.4,769.6 1404.0,735.7 1437.6,715.9 1471.2,712.9 1504.8,687.9 1538.4,654.2 1572.0,630.9 1605.6,648.3 1639.2,647.4 1672.8,613.8 1706.4,572.7 1740.0,537.1 1773.6,508.3 1807.2,493.5"/>
<polyline stroke="#808000" points="228.0,1287.5 261.6,1314.8 295.2,1311.6 328.8,1287.5 362.4,1238.5 396.0,1204.2 429.6,1190.6 463.2,1184.8 496.8,1167.4 530.4,1209.9 564.0,1232.7 597.6,1245.9 631.2,1231.7 664.8,1212.5 698.4,1171.5 732.0,1133.3 765.6,1086.4 799.2,1034.8 832.8,1010.6 866.4,1002.0 900.0,987.2 933.6,960.6 967.2,930.0 1000.8,896.7 1034.4,865.3 1068.0,849.7 1101.6,858.0 1135.2,847.9 1168.8,835.8 1202.4,829.5 1236.0,843.8 1269.6,814.7 1303.2,780.5 1336.8,752.5 1370.4,759.5 1404.0,770.3 1437.6,768.9 1471.2,778.1 1504.8,769.5 1538.4,759.6 1572.0,745.1 1605.6,735.1 1639.2,710.1 1672.8,672.6 1706.4,637.8 1740.0,626.2 1773.6,609.0 1807.2,588.4"/>
<polyline class="d" stroke="#99cc00" points="228.0,1287.5 261.6,1262.0 295.2,1228.0 328.8,1202.0 362.4,1177.0 396.0,1132.0 429.6,1111.8 463.2,1086.3 496.8,1047.0 530.4,1056.9 564.0,1070.1 597.6,1090.1 631.2,1115.6 664.8,1126.7 698.4,1098.3 732.0,1063.0 765.6,1011.7 799.2,976.0 832.8,943.4 866.4,899.7 900.0,851.7 933.6,817.8 967.2,824.9 1000.8,815.3 1034.4,800.7 1068.0,790.3 1101.6,785.5 1135.2,771.1 1168.8,727.3 1202.4,697.9 1236.0,679.0 1269.6,667.5 1303.2,651.8 1336.8,641.4 1370.4,644.8 1404.0,635.0 1437.6,608.0 1471.2,565.0 1504.8,540.0 1538.4,496.7 1572.0,435.0 1605.6,394.0 1639.2,370.0 1672.8,360.0 1706.4,363.8 1740.0,342.5 1773.6,298.8 1807.2,278.8"/>
<polyline class="d" stroke="#00ff00" points="228.0,1287.5 261.6,1292.8 295.2,1293.8 328.8,1305.1 362.4,1300.5 396.0,1282.0 429.6,1269.5 463.2,1255.9 496.8,1243.8 530.4,1273.2 564.0,1310.0 597.6,1340.0 631.2,1392.5 664.8,1415.0 698.4,1387.0 732.0,1350.0 765.6,1300.0 799.2,1237.5 832.8,1170.0 866.4,1105.0 900.0,1025.0 933.6,990.0 967.2,970.0 1000.8,960.0 1034.4,950.0 1068.0,945.0 1101.6,935.0 1135.2,925.0 1168.8,915.0 1202.4,900.0 1236.0,890.0 1269.6,875.0 1303.2,860.0 1336.8,845.0 1370.4,812.0 1404.0,833.6 1437.6,837.0 1471.2,830.0 1504.8,858.8 1538.4,870.8 1572.0,845.6 1605.6,812.8 1639.2,788.8 1672.8,757.0 1706.4,738.4 1740.0,701.0 1773.6,683.7 1807.2,672.8"/>
<polyline stroke="#ff8080" points="228.0,1287.5 261.6,1307.2 295.2,1301.9 328.8,1305.1 362.4,1292.9 396.0,1250.6 429.6,1206.9 463.2,1187.8 496.8,1187.8 530.4,1208.6 564.0,1221.0 597.6,1235.1 631.2,1253.0 664.8,1258.1 698.4,1218.5 732.0,1179.7 765.6,1132.7 799.2,1103.2 832.8,1082.0 866.4,1087.0 900.0,1067.0 933.6,1052.0 967.2,1032.0 1000.8,1021.0 1034.4,1009.0 1068.0,1000.0 1101.6,990.0 1135.2,983.0 1168.8,975.0 1202.4,970.0 1236.0,978.8 1269.6,972.5 1303.2,972.5 1336.8,973.0 1370.4,945.0 1404.0,930.0 1437.6,916.7 1471.2,896.0 1504.8,880.6 1538.4,880.0 1572.0,846.7 1605.6,828.0 1639.2,809.5 1672.8,812.8 1706.4,811.7 1740.0,793.0 1773.6,776.7 1807.2,764.7"/>
<polyline class="d" stroke="#ff00ff" points="228.0,1287.5 261.6,1304.7 295.2,1330.9 328.8,1371.0 362.4,1366.3 396.0,1321.7 429.6,1293.6 463.2,1292.5 496.8,1284.8 530.4,1307.5 564.0,1343.8 597.6,1363.8 631.2,1369.5 664.8,1358.8 698.4,1305.0 732.0,1250.0 765.6,1200.0 799.2,1150.0 832.8,1110.0 866.4,1085.0 900.0,1065.0 933.6,1050.0 967.2,1050.0 1000.8,1041.0 1034.4,1031.0 1068.0,1025.0 1101.6,1015.5 1135.2,1017.0 1168.8,1010.0 1202.4,995.0 1236.0,977.5 1269.6,965.0 1303.2,955.0 1336.8,947.5 1370.4,943.0 1404.0,948.0 1437.6,931.0 1471.2,919.0 1504.8,880.6 1538.4,854.4 1572.0,832.5 1605.6,799.7 1639.2,763.6 1672.8,745.0 1706.4,739.5 1740.0,692.5 1773.6,659.7 1807.2,654.2"/>
<polyline stroke="#800000" points="228.0,1287.5 261.6,1287.2 295.2,1263.1 328.8,1261.0 362.4,1249.8 396.0,1235.5 429.6,1204.0 463.2,1172.7 496.8,1160.7 530.4,1190.2 564.0,1210.9 597.6,1218.0 631.2,1221.1 664.8,1212.0 698.4,1157.2 732.0,1097.0 765.6,1041.5 799.2,1002.7 832.8,973.5 866.4,939.9 900.0,905.0 933.6,857.5 967.2,782.5 1000.8,720.0 1034.4,700.0 1068.0,722.0 1101.6,725.0 1135.2,720.0 1168.8,710.0 1202.4,695.0 1236.0,680.0 1269.6,657.5 1303.2,627.5 1336.8,605.0 1370.4,585.0 1404.0,565.0 1437.6,545.0 1471.2,525.0 1504.8,505.0 1538.4,470.0 1572.0,426.0 1605.6,385.0 1639.2,355.0 1672.8,321.0 1706.4,293.8 1740.0,281.0 1773.6,242.5 1807.2,197.5"/>
<polyline stroke="#993366" points="228.0,1287.5 261.6,1294.1 295.2,1290.3 328.8,1303.7 362.4,1293.2 396.0,1248.5 429.6,1216.8 463.2,1201.3 496.8,1202.2 530.4,1210.6 564.0,1216.0 597.6,1212.0 631.2,1197.0 664.8,1165.2 698.4,1112.9 732.0,1081.0 765.6,1055.7 799.2,1012.9 832.8,960.1 866.4,920.4 900.0,892.3 933.6,855.8 967.2,823.8 1000.8,819.0 1034.4,840.0 1068.0,836.0 1101.6,821.8 1135.2,825.4 1168.8,841.8 1202.4,861.1 1236.0,853.8 1269.6,818.4 1303.2,785.6 1336.8,756.3 1370.4,749.1 1404.0,751.7 1437.6,738.8 1471.2,716.1 1504.8,701.5 1538.4,712.3 1572.0,702.3 1605.6,667.6 1639.2,630.9 1672.8,598.0 1706.4,577.0 1740.0,560.2 1773.6,555.8 1807.2,564.1"/>
<polyline stroke="#ccffff" points="228.0,1287.5 261.6,1294.4 295.2,1300.4 328.8,1310.6 362.4,1283.7 396.0,1236.5 429.6,1213.3 463.2,1184.4 496.8,1162.0 530.4,1163.4 564.0,1172.0 597.6,1165.7 631.2,1164.9 664.8,1161.3 698.4,1121.4 732.0,1069.6 765.6,1017.1 799.2,967.0 832.8,918.3 866.4,868.6 900.0,823.8 933.6,810.0 967.2,795.0 1000.8,727.5 1034.4,726.0 1068.0,736.0 1101.6,742.0 1135.2,732.5 1168.8,670.0 1202.4,640.0 1236.0,616.0 1269.6,597.5 1303.2,587.0 1336.8,602.5 1370.4,570.0 1404.0,525.0 1437.6,480.0 1471.2,435.0 1504.8,379.0 1538.4,351.0 1572.0,382.0 1605.6,382.0 1639.2,371.0 1672.8,365.0 1706.4,363.8 1740.0,295.0 1773.6,272.5 1807.2,253.8"/>
<polyline stroke="#00ffff" points="228.0,1287.5 261.6,1289.4 295.2,1295.0 328.8,1306.8 362.4,1286.1 396.0,1242.2 429.6,1221.4 463.2,1201.8 496.8,1194.7 530.4,1210.5 564.0,1216.8 597.6,1223.4 631.2,1223.2 664.8,1217.7 698.4,1147.6 732.0,1079.6 765.6,1039.6 799.2,1022.1 832.8,1010.2 866.4,984.2 900.0,944.1 933.6,908.1 967.2,872.3 1000.8,859.5 1034.4,842.0 1068.0,804.9 1101.6,756.8 1135.2,709.6 1168.8,706.2 1202.4,709.3 1236.0,724.9 1269.6,692.3 1303.2,650.0 1336.8,600.0 1370.4,578.0 1404.0,575.0 1437.6,523.0 1471.2,480.0 1504.8,446.7 1538.4,436.7 1572.0,410.5 1605.6,416.0 1639.2,440.0 1672.8,453.0 1706.4,438.8 1740.0,436.0 1773.6,416.0 1807.2,382.5"/>
<polyline class="d" stroke="#ff6600" points="228.0,1287.5 261.6,1294.0 295.2,1282.3 328.8,1278.7 362.4,1245.6 396.0,1199.1 429.6,1172.7 463.2,1171.9 496.8,1181.5 530.4,1192.7 564.0,1202.8 597.6,1193.9 631.2,1179.4 664.8,1164.1 698.4,1114.7 732.0,1072.1 765.6,1030.1 799.2,986.3 832.8,939.9 866.4,899.5 900.0,876.0 933.6,822.0 967.2,757.5 1000.8,732.0 1034.4,736.0 1068.0,761.0 1101.6,791.0 1135.2,790.0 1168.8,790.9 1202.4,792.3 1236.0,776.2 1269.6,732.5 1303.2,708.8 1336.8,703.9 1370.4,700.7 1404.0,674.2 1437.6,642.2 1471.2,630.2 1504.8,628.8 1538.4,605.6 1572.0,568.5 1605.6,542.7 1639.2,541.1 1672.8,527.7 1706.4,500.6 1740.0,471.4 1773.6,452.5 1807.2,442.0"/>
<polyline stroke="#800080" points="228.0,1287.5 261.6,1291.0 295.2,1295.7 328.8,1321.0 362.4,1310.4 396.0,1265.7 429.6,1202.2 463.2,1171.3 496.8,1175.8 530.4,1193.5 564.0,1198.5 597.6,1194.2 631.2,1205.8 664.8,1217.2 698.4,1180.9 732.0,1133.5 765.6,1099.2 799.2,1054.2 832.8,1019.5 866.4,984.6 900.0,971.6 933.6,974.8 967.2,961.4 1000.8,941.6 1034.4,907.5 1068.0,903.9 1101.6,936.8 1135.2,979.4 1168.8,970.4 1202.4,960.0 1236.0,942.5 1269.6,948.8 1303.2,897.5 1336.8,877.0 1370.4,886.0 1404.0,872.0 1437.6,819.4 1471.2,821.6 1504.8,775.6 1538.4,747.0 1572.0,747.0 1605.6,745.0 1639.2,716.6 1672.8,719.0 1706.4,731.9 1740.0,692.5 1773.6,679.4 1807.2,667.3"/>
<polyline class="d" stroke="#993300" points="228.0,1287.5 261.6,1320.0 295.2,1375.0 328.8,1417.5 362.4,1442.5 396.0,1442.0 429.6,1350.0 463.2,1282.0 496.8,1253.9 530.4,1269.5 564.0,1278.9 597.6,1289.9 631.2,1303.4 664.8,1298.6 698.4,1238.7 732.0,1175.6 765.6,1123.0 799.2,1079.5 832.8,1039.9 866.4,991.0 900.0,938.1 933.6,903.9 967.2,886.3 1000.8,880.8 1034.4,864.6 1068.0,862.5 1101.6,858.1 1135.2,837.0 1168.8,797.6 1202.4,751.3 1236.0,718.6 1269.6,697.4 1303.2,694.7 1336.8,682.6 1370.4,654.2 1404.0,631.2 1437.6,633.7 1471.2,634.7 1504.8,627.5 1538.4,619.3 1572.0,623.0 1605.6,616.8 1639.2,590.8 1672.8,551.4 1706.4,521.9 1740.0,511.9 1773.6,501.8 1807.2,482.9"/>
<polyline stroke="#ccffff" points="228.0,1287.5 261.6,1332.9 295.2,1362.5 328.8,1407.5 362.4,1396.0 396.0,1350.0 429.6,1309.1 463.2,1266.2 496.8,1229.1 530.4,1245.7 564.0,1263.6 597.6,1280.6 631.2,1293.4 664.8,1274.3 698.4,1207.0 732.0,1149.0 765.6,1107.0 799.2,1073.3 832.8,1024.3 866.4,984.1 900.0,956.2 933.6,953.0 967.2,934.2 1000.8,920.7 1034.4,904.8 1068.0,874.5 1101.6,838.5 1135.2,796.7 1168.8,774.4 1202.4,751.7 1236.0,722.2 1269.6,709.3 1303.2,709.5 1336.8,711.2 1370.4,694.2 1404.0,676.5 1437.6,651.6 1471.2,622.9 1504.8,580.2 1538.4,561.1 1572.0,557.2 1605.6,571.0 1639.2,555.3 1672.8,522.7 1706.4,492.8 1740.0,478.1 1773.6,467.3 1807.2,448.6"/>
<polyline stroke="#333399" points="228.0,1287.5 261.6,1310.5 295.2,1308.5 328.8,1324.3 362.4,1331.1 396.0,1306.6 429.6,1260.5 463.2,1249.8 496.8,1254.6 530.4,1271.2 564.0,1272.0 597.6,1262.2 631.2,1254.5 664.8,1239.3 698.4,1208.0 732.0,1176.4 765.6,1132.3 799.2,1073.5 832.8,1043.7 866.4,1050.9 900.0,1043.8 933.6,998.4 967.2,973.2 1000.8,967.1 1034.4,965.4 1068.0,944.5 1101.6,941.6 1135.2,945.7 1168.8,909.7 1202.4,861.3 1236.0,844.3 1269.6,849.8 1303.2,864.7 1336.8,856.3 1370.4,828.7 1404.0,814.2 1437.6,802.8 1471.2,802.9 1504.8,789.0 1538.4,774.1 1572.0,753.4 1605.6,705.2 1639.2,661.0 1672.8,644.6 1706.4,666.0 1740.0,670.7 1773.6,643.7 1807.2,597.9"/>
</g>
<g shape-rendering="crispEdges">
<rect x="226" y="85" width="1584" height="4" fill="#808080"/>
<rect x="226" y="1586" width="1584" height="4" fill="#808080"/>
<rect x="226" y="85" width="2" height="1505" fill="#808080"/>
<rect x="1806" y="85" width="4" height="1505" fill="#808080"/>
<rect x="228" y="86" width="2" height="1503" fill="#000"/>

<rect x="217" y="87" width="11" height="1" fill="#000"/>
<rect x="217" y="237" width="11" height="1" fill="#000"/>
<rect x="217" y="387" width="11" height="1" fill="#000"/>
<rect x="217" y="537" width="11" height="1" fill="#000"/>
<rect x="217" y="687" width="11" height="1" fill="#000"/>
<rect x="217" y="837" width="11" height="1" fill="#000"/>
<rect x="217" y="987" width="11" height="1" fill="#000"/>
<rect x="217" y="1137" width="11" height="1" fill="#000"/>
<rect x="217" y="1287" width="11" height="1" fill="#000"/>
<rect x="217" y="1437" width="11" height="1" fill="#000"/>
<rect x="217" y="1588" width="11" height="1" fill="#000"/>
</g>
<polyline fill="none" stroke="#339966" stroke-width="4.3" stroke-linejoin="round" points="228.0,1287.8 261.6,1299.8 295.2,1317.8 328.8,1331.8 362.4,1305.8 396.0,1303.3 429.6,1284.8 463.2,1235.8 496.8,1205.8 530.4,1218.8 564.0,1226.4 597.6,1215.8 631.2,1208.8 664.8,1220.5 698.4,1178.3 732.0,1117.3 765.6,1104.8 799.2,1108.3 832.8,1069.5 866.4,1054.8 900.0,1059.5 933.6,1037.8 967.2,1001.8 1000.8,992.8 1034.4,993.6 1068.0,1009.8 1101.6,1003.3 1135.2,1002.3 1168.8,1014.8 1202.4,1019.8 1236.0,1005.8"/>
<polyline fill="none" stroke="#0000ff" stroke-width="4.3" stroke-linejoin="round" points="228.0,1287.8 261.6,1316.8 295.2,1361.8 328.8,1391.4 362.4,1352.8 396.0,1341.4 429.6,1318.8 463.2,1275.8 496.8,1236.8 530.4,1280.8 564.0,1319.8 597.6,1305.5 631.2,1298.8 664.8,1313.8 698.4,1277.8 732.0,1178.3 765.6,1170.5 799.2,1180.8 832.8,1153.8 866.4,1113.8 900.0,1149.8 933.6,1123.8 967.2,1076.8 1000.8,1063.8 1034.4,1066.4 1068.0,1095.5 1101.6,1081.4 1135.2,1059.8 1168.8,1067.8 1202.4,1073.3 1236.0,1036.8"/>
<polyline fill="none" stroke="#000" stroke-width="4.6" stroke-linejoin="round" points="228.0,1287.4 261.6,1294.2 295.2,1296.4 328.8,1299.4 362.4,1284.4 396.0,1245.4 429.6,1212.4 463.2,1180.4 496.8,1160.4 530.4,1183.4 564.0,1201.0 597.6,1214.4 631.2,1223.4 664.8,1216.0 698.4,1167.4 732.0,1120.9 765.6,1081.4 799.2,1044.4 832.8,1010.4 866.4,979.1 900.0,951.9 933.6,929.4 967.2,908.4 1000.8,890.4 1034.4,876.9 1068.0,865.1 1101.6,855.1 1135.2,844.4 1168.8,831.0 1202.4,816.9 1236.0,799.4 1269.6,777.4 1303.2,756.9 1336.8,734.8 1370.4,716.0 1404.0,701.0 1437.6,690.4 1471.2,679.4 1504.8,666.0 1538.4,650.4 1572.0,631.4 1605.6,608.2 1639.2,582.4 1672.8,556.4 1706.4,533.2 1740.0,512.9 1773.6,496.4 1807.2,484.1"/>
<circle cx="228.0" cy="1287.8" r="9" fill="#0000ff" stroke="#000" stroke-width="1.1"/>
<circle cx="261.6" cy="1316.8" r="9" fill="#0000ff" stroke="#000" stroke-width="1.1"/>
<circle cx="295.2" cy="1361.8" r="9" fill="#0000ff" stroke="#000" stroke-width="1.1"/>
<circle cx="328.8" cy="1391.4" r="9" fill="#0000ff" stroke="#000" stroke-width="1.1"/>
<circle cx="362.4" cy="1352.8" r="9" fill="#0000ff" stroke="#000" stroke-width="1.1"/>
<circle cx="396.0" cy="1341.4" r="9" fill="#0000ff" stroke="#000" stroke-width="1.1"/>
<circle cx="429.6" cy="1318.8" r="9" fill="#0000ff" stroke="#000" stroke-width="1.1"/>
<circle cx="463.2" cy="1275.8" r="9" fill="#0000ff" stroke="#000" stroke-width="1.1"/>
<circle cx="496.8" cy="1236.8" r="9" fill="#0000ff" stroke="#000" stroke-width="1.1"/>
<circle cx="530.4" cy="1280.8" r="9" fill="#0000ff" stroke="#000" stroke-width="1.1"/>
<circle cx="564.0" cy="1319.8" r="9" fill="#0000ff" stroke="#000" stroke-width="1.1"/>
<circle cx="597.6" cy="1305.5" r="9" fill="#0000ff" stroke="#000" stroke-width="1.1"/>
<circle cx="631.2" cy="1298.8" r="9" fill="#0000ff" stroke="#000" stroke-width="1.1"/>
<circle cx="664.8" cy="1313.8" r="9" fill="#0000ff" stroke="#000" stroke-width="1.1"/>
<circle cx="698.4" cy="1277.8" r="9" fill="#0000ff" stroke="#000" stroke-width="1.1"/>
<circle cx="732.0" cy="1178.3" r="9" fill="#0000ff" stroke="#000" stroke-width="1.1"/>
<circle cx="765.6" cy="1170.5" r="9" fill="#0000ff" stroke="#000" stroke-width="1.1"/>
<circle cx="799.2" cy="1180.8" r="9" fill="#0000ff" stroke="#000" stroke-width="1.1"/>
<circle cx="832.8" cy="1153.8" r="9" fill="#0000ff" stroke="#000" stroke-width="1.1"/>
<circle cx="866.4" cy="1113.8" r="9" fill="#0000ff" stroke="#000" stroke-width="1.1"/>
<circle cx="900.0" cy="1149.8" r="9" fill="#0000ff" stroke="#000" stroke-width="1.1"/>
<circle cx="933.6" cy="1123.8" r="9" fill="#0000ff" stroke="#000" stroke-width="1.1"/>
<circle cx="967.2" cy="1076.8" r="9" fill="#0000ff" stroke="#000" stroke-width="1.1"/>
<circle cx="1000.8" cy="1063.8" r="9" fill="#0000ff" stroke="#000" stroke-width="1.1"/>
<circle cx="1034.4" cy="1066.4" r="9" fill="#0000ff" stroke="#000" stroke-width="1.1"/>
<circle cx="1068.0" cy="1095.5" r="9" fill="#0000ff" stroke="#000" stroke-width="1.1"/>
<circle cx="1101.6" cy="1081.4" r="9" fill="#0000ff" stroke="#000" stroke-width="1.1"/>
<circle cx="1135.2" cy="1059.8" r="9" fill="#0000ff" stroke="#000" stroke-width="1.1"/>
<circle cx="1168.8" cy="1067.8" r="9" fill="#0000ff" stroke="#000" stroke-width="1.1"/>
<circle cx="1202.4" cy="1073.3" r="9" fill="#0000ff" stroke="#000" stroke-width="1.1"/>
<circle cx="1236.0" cy="1036.8" r="9" fill="#0000ff" stroke="#000" stroke-width="1.1"/>
<circle cx="228.0" cy="1287.8" r="9" fill="#00ff00" stroke="#000" stroke-width="1.1"/>
<circle cx="261.6" cy="1299.8" r="9" fill="#00ff00" stroke="#000" stroke-width="1.1"/>
<circle cx="295.2" cy="1317.8" r="9" fill="#00ff00" stroke="#000" stroke-width="1.1"/>
<circle cx="328.8" cy="1331.8" r="9" fill="#00ff00" stroke="#000" stroke-width="1.1"/>
<circle cx="362.4" cy="1305.8" r="9" fill="#00ff00" stroke="#000" stroke-width="1.1"/>
<circle cx="396.0" cy="1303.3" r="9" fill="#00ff00" stroke="#000" stroke-width="1.1"/>
<circle cx="429.6" cy="1284.8" r="9" fill="#00ff00" stroke="#000" stroke-width="1.1"/>
<circle cx="463.2" cy="1235.8" r="9" fill="#00ff00" stroke="#000" stroke-width="1.1"/>
<circle cx="496.8" cy="1205.8" r="9" fill="#00ff00" stroke="#000" stroke-width="1.1"/>
<circle cx="530.4" cy="1218.8" r="9" fill="#00ff00" stroke="#000" stroke-width="1.1"/>
<circle cx="564.0" cy="1226.4" r="9" fill="#00ff00" stroke="#000" stroke-width="1.1"/>
<circle cx="597.6" cy="1215.8" r="9" fill="#00ff00" stroke="#000" stroke-width="1.1"/>
<circle cx="631.2" cy="1208.8" r="9" fill="#00ff00" stroke="#000" stroke-width="1.1"/>
<circle cx="664.8" cy="1220.5" r="9" fill="#00ff00" stroke="#000" stroke-width="1.1"/>
<circle cx="698.4" cy="1178.3" r="9" fill="#00ff00" stroke="#000" stroke-width="1.1"/>
<circle cx="732.0" cy="1117.3" r="9" fill="#00ff00" stroke="#000" stroke-width="1.1"/>
<circle cx="765.6" cy="1104.8" r="9" fill="#00ff00" stroke="#000" stroke-width="1.1"/>
<circle cx="799.2" cy="1108.3" r="9" fill="#00ff00" stroke="#000" stroke-width="1.1"/>
<circle cx="832.8" cy="1069.5" r="9" fill="#00ff00" stroke="#000" stroke-width="1.1"/>
<circle cx="866.4" cy="1054.8" r="9" fill="#00ff00" stroke="#000" stroke-width="1.1"/>
<circle cx="900.0" cy="1059.5" r="9" fill="#00ff00" stroke="#000" stroke-width="1.1"/>
<circle cx="933.6" cy="1037.8" r="9" fill="#00ff00" stroke="#000" stroke-width="1.1"/>
<circle cx="967.2" cy="1001.8" r="9" fill="#00ff00" stroke="#000" stroke-width="1.1"/>
<circle cx="1000.8" cy="992.8" r="9" fill="#00ff00" stroke="#000" stroke-width="1.1"/>
<circle cx="1034.4" cy="993.6" r="9" fill="#00ff00" stroke="#000" stroke-width="1.1"/>
<circle cx="1068.0" cy="1009.8" r="9" fill="#00ff00" stroke="#000" stroke-width="1.1"/>
<circle cx="1101.6" cy="1003.3" r="9" fill="#00ff00" stroke="#000" stroke-width="1.1"/>
<circle cx="1135.2" cy="1002.3" r="9" fill="#00ff00" stroke="#000" stroke-width="1.1"/>
<circle cx="1168.8" cy="1014.8" r="9" fill="#00ff00" stroke="#000" stroke-width="1.1"/>
<circle cx="1202.4" cy="1019.8" r="9" fill="#00ff00" stroke="#000" stroke-width="1.1"/>
<circle cx="1236.0" cy="1005.8" r="9" fill="#00ff00" stroke="#000" stroke-width="1.1"/>
<rect x="221.3" y="1280.7" width="13.4" height="13.4" fill="#000" shape-rendering="crispEdges"/>
<rect x="254.9" y="1287.5" width="13.4" height="13.4" fill="#000" shape-rendering="crispEdges"/>
<rect x="288.5" y="1289.7" width="13.4" height="13.4" fill="#000" shape-rendering="crispEdges"/>
<rect x="322.1" y="1292.7" width="13.4" height="13.4" fill="#000" shape-rendering="crispEdges"/>
<rect x="355.7" y="1277.7" width="13.4" height="13.4" fill="#000" shape-rendering="crispEdges"/>
<rect x="389.3" y="1238.7" width="13.4" height="13.4" fill="#000" shape-rendering="crispEdges"/>
<rect x="422.9" y="1205.7" width="13.4" height="13.4" fill="#000" shape-rendering="crispEdges"/>
<rect x="456.5" y="1173.7" width="13.4" height="13.4" fill="#000" shape-rendering="crispEdges"/>
<rect x="490.1" y="1153.7" width="13.4" height="13.4" fill="#000" shape-rendering="crispEdges"/>
<rect x="523.7" y="1176.7" width="13.4" height="13.4" fill="#000" shape-rendering="crispEdges"/>
<rect x="557.3" y="1194.3" width="13.4" height="13.4" fill="#000" shape-rendering="crispEdges"/>
<rect x="590.9" y="1207.7" width="13.4" height="13.4" fill="#000" shape-rendering="crispEdges"/>
<rect x="624.5" y="1216.7" width="13.4" height="13.4" fill="#000" shape-rendering="crispEdges"/>
<rect x="658.1" y="1209.3" width="13.4" height="13.4" fill="#000" shape-rendering="crispEdges"/>
<rect x="691.7" y="1160.7" width="13.4" height="13.4" fill="#000" shape-rendering="crispEdges"/>
<rect x="725.3" y="1114.2" width="13.4" height="13.4" fill="#000" shape-rendering="crispEdges"/>
<rect x="758.9" y="1074.7" width="13.4" height="13.4" fill="#000" shape-rendering="crispEdges"/>
<rect x="792.5" y="1037.7" width="13.4" height="13.4" fill="#000" shape-rendering="crispEdges"/>
<rect x="826.1" y="1003.7" width="13.4" height="13.4" fill="#000" shape-rendering="crispEdges"/>
<rect x="859.7" y="972.4" width="13.4" height="13.4" fill="#000" shape-rendering="crispEdges"/>
<rect x="893.3" y="945.2" width="13.4" height="13.4" fill="#000" shape-rendering="crispEdges"/>
<rect x="926.9" y="922.7" width="13.4" height="13.4" fill="#000" shape-rendering="crispEdges"/>
<rect x="960.5" y="901.7" width="13.4" height="13.4" fill="#000" shape-rendering="crispEdges"/>
<rect x="994.1" y="883.7" width="13.4" height="13.4" fill="#000" shape-rendering="crispEdges"/>
<rect x="1027.7" y="870.2" width="13.4" height="13.4" fill="#000" shape-rendering="crispEdges"/>
<rect x="1061.3" y="858.4" width="13.4" height="13.4" fill="#000" shape-rendering="crispEdges"/>
<rect x="1094.9" y="848.4" width="13.4" height="13.4" fill="#000" shape-rendering="crispEdges"/>
<rect x="1128.5" y="837.7" width="13.4" height="13.4" fill="#000" shape-rendering="crispEdges"/>
<rect x="1162.1" y="824.3" width="13.4" height="13.4" fill="#000" shape-rendering="crispEdges"/>
<rect x="1195.7" y="810.2" width="13.4" height="13.4" fill="#000" shape-rendering="crispEdges"/>
<rect x="1229.3" y="792.7" width="13.4" height="13.4" fill="#000" shape-rendering="crispEdges"/>
<rect x="1262.9" y="770.7" width="13.4" height="13.4" fill="#000" shape-rendering="crispEdges"/>
<rect x="1296.5" y="750.2" width="13.4" height="13.4" fill="#000" shape-rendering="crispEdges"/>
<rect x="1330.1" y="728.1" width="13.4" height="13.4" fill="#000" shape-rendering="crispEdges"/>
<rect x="1363.7" y="709.3" width="13.4" height="13.4" fill="#000" shape-rendering="crispEdges"/>
<rect x="1397.3" y="694.3" width="13.4" height="13.4" fill="#000" shape-rendering="crispEdges"/>
<rect x="1430.9" y="683.7" width="13.4" height="13.4" fill="#000" shape-rendering="crispEdges"/>
<rect x="1464.5" y="672.7" width="13.4" height="13.4" fill="#000" shape-rendering="crispEdges"/>
<rect x="1498.1" y="659.3" width="13.4" height="13.4" fill="#000" shape-rendering="crispEdges"/>
<rect x="1531.7" y="643.7" width="13.4" height="13.4" fill="#000" shape-rendering="crispEdges"/>
<rect x="1565.3" y="624.7" width="13.4" height="13.4" fill="#000" shape-rendering="crispEdges"/>
<rect x="1598.9" y="601.5" width="13.4" height="13.4" fill="#000" shape-rendering="crispEdges"/>
<rect x="1632.5" y="575.7" width="13.4" height="13.4" fill="#000" shape-rendering="crispEdges"/>
<rect x="1666.1" y="549.7" width="13.4" height="13.4" fill="#000" shape-rendering="crispEdges"/>
<rect x="1699.7" y="526.5" width="13.4" height="13.4" fill="#000" shape-rendering="crispEdges"/>
<rect x="1733.3" y="506.2" width="13.4" height="13.4" fill="#000" shape-rendering="crispEdges"/>
<rect x="1766.9" y="489.7" width="13.4" height="13.4" fill="#000" shape-rendering="crispEdges"/>
<rect x="1800.5" y="477.4" width="13.4" height="13.4" fill="#000" shape-rendering="crispEdges"/>
<g class="tx">
<text x="422.5" y="153" font-size="49.5" fill="#000" text-anchor="start" textLength="977" lengthAdjust="spacingAndGlyphs">90 CMIP5 Climate Models vs. Observations</text>
<text x="312.7" y="208" font-size="49.5" fill="#000" text-anchor="start" textLength="1185" lengthAdjust="spacingAndGlyphs">Global Average Temperature, running 5-Year Means</text>
<text x="265" y="270.5" font-size="35.4" fill="#000" text-anchor="start" textLength="1151" lengthAdjust="spacingAndGlyphs">Satellite warming trends ('79-2013) lower than 88 of 90 models (97.8%)</text>
<text x="265" y="307.8" font-size="35.4" fill="#000" text-anchor="start" textLength="1145" lengthAdjust="spacingAndGlyphs">Surface warming trends ('79-2013) lower than 86 of 90 models (95.6%)</text>
<text x="300.2" y="416" font-size="54" fill="#ff0000" text-anchor="start" textLength="891" lengthAdjust="spacingAndGlyphs">Over 95% of Climate Models Agree:</text>
<text x="322" y="477.2" font-size="54" fill="#ff0000" text-anchor="start" textLength="850" lengthAdjust="spacingAndGlyphs">The Observations Must Be Wrong</text>
<text x="197.2" y="97.7" font-size="36.2" fill="#000" text-anchor="end" textLength="47.6" lengthAdjust="spacingAndGlyphs">1.6</text>
<text x="197.2" y="247.8" font-size="36.2" fill="#000" text-anchor="end" textLength="47.6" lengthAdjust="spacingAndGlyphs">1.4</text>
<text x="197.2" y="397.9" font-size="36.2" fill="#000" text-anchor="end" textLength="47.6" lengthAdjust="spacingAndGlyphs">1.2</text>
<text x="197.2" y="548.0" font-size="36.2" fill="#000" text-anchor="end" textLength="47.6" lengthAdjust="spacingAndGlyphs">1.0</text>
<text x="197.2" y="698.1" font-size="36.2" fill="#000" text-anchor="end" textLength="47.6" lengthAdjust="spacingAndGlyphs">0.8</text>
<text x="197.2" y="848.2" font-size="36.2" fill="#000" text-anchor="end" textLength="47.6" lengthAdjust="spacingAndGlyphs">0.6</text>
<text x="197.2" y="998.3" font-size="36.2" fill="#000" text-anchor="end" textLength="47.6" lengthAdjust="spacingAndGlyphs">0.4</text>
<text x="197.2" y="1148.4" font-size="36.2" fill="#000" text-anchor="end" textLength="47.6" lengthAdjust="spacingAndGlyphs">0.2</text>
<text x="197.2" y="1298.5" font-size="36.2" fill="#000" text-anchor="end" textLength="47.6" lengthAdjust="spacingAndGlyphs">0.0</text>
<text x="197.2" y="1448.6" font-size="36.2" fill="#000" text-anchor="end" textLength="59.0" lengthAdjust="spacingAndGlyphs">-0.2</text>
<text x="197.2" y="1598.7" font-size="36.2" fill="#000" text-anchor="end" textLength="59.0" lengthAdjust="spacingAndGlyphs">-0.4</text>
<text x="227.7" y="1640" font-size="35.3" fill="#000" text-anchor="middle" textLength="76.6" lengthAdjust="spacingAndGlyphs">1983</text>
<text x="395.7" y="1640" font-size="35.3" fill="#000" text-anchor="middle" textLength="76.6" lengthAdjust="spacingAndGlyphs">1988</text>
<text x="563.7" y="1640" font-size="35.3" fill="#000" text-anchor="middle" textLength="76.6" lengthAdjust="spacingAndGlyphs">1993</text>
<text x="731.7" y="1640" font-size="35.3" fill="#000" text-anchor="middle" textLength="76.6" lengthAdjust="spacingAndGlyphs">1998</text>
<text x="899.7" y="1640" font-size="35.3" fill="#000" text-anchor="middle" textLength="76.6" lengthAdjust="spacingAndGlyphs">2003</text>
<text x="1067.7" y="1640" font-size="35.3" fill="#000" text-anchor="middle" textLength="76.6" lengthAdjust="spacingAndGlyphs">2008</text>
<text x="1235.7" y="1640" font-size="35.3" fill="#000" text-anchor="middle" textLength="76.6" lengthAdjust="spacingAndGlyphs">2013</text>
<text x="1403.7" y="1640" font-size="35.3" fill="#000" text-anchor="middle" textLength="76.6" lengthAdjust="spacingAndGlyphs">2018</text>
<text x="1571.7" y="1640" font-size="35.3" fill="#000" text-anchor="middle" textLength="76.6" lengthAdjust="spacingAndGlyphs">2023</text>
<text x="1739.7" y="1640" font-size="35.3" fill="#000" text-anchor="middle" textLength="76.6" lengthAdjust="spacingAndGlyphs">2028</text>
<text transform="translate(108.2,835.7) rotate(-90)" font-size="35.4" text-anchor="middle" textLength="669" lengthAdjust="spacingAndGlyphs">Departure from 1979-83 Average (deg. C)</text>
</g>
</svg></body></html>
